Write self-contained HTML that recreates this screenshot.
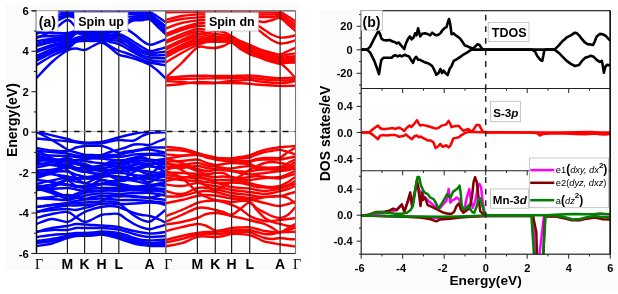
<!DOCTYPE html>
<html><head><meta charset="utf-8"><style>html,body{margin:0;padding:0;background:#fff;overflow:hidden}svg{display:block;will-change:transform}</style></head><body>
<svg width="618" height="294" viewBox="0 0 618 294">
<rect x="0" y="0" width="618" height="294" fill="#ffffff"/>
<rect x="5" y="4" width="295" height="266" fill="#fbfbfb"/>
<rect x="320" y="9.7" width="298" height="279.5" fill="#fbfbfb"/>
<rect x="36.5" y="10.8" width="259.0" height="242.7" fill="#fff"/>
<rect x="361.2" y="10.7" width="249.00000000000006" height="243.5" fill="#fff"/>
<line x1="31.5" y1="10.8" x2="295.5" y2="10.8" stroke="#555" stroke-width="1.3"/>
<defs><clipPath id="c1"><rect x="36.5" y="11.4" width="129.3" height="242.1"/></clipPath><clipPath id="c2"><rect x="165.8" y="11.4" width="129.7" height="242.1"/></clipPath></defs>
<g clip-path="url(#c1)" fill="none" stroke="#0000ff" stroke-width="2.4" stroke-linecap="round">
<path d="M36.5,22.2 C39.1,20.6 46.9,14.2 52.0,12.5 C57.1,10.8 63.3,12.1 67.3,12.0 C71.3,11.9 73.1,12.0 76.0,12.0 C78.9,12.0 81.7,12.0 84.5,12.0 C87.3,12.0 90.2,12.0 93.0,12.0 C95.8,12.0 98.6,12.0 101.4,12.0 C104.2,12.0 107.2,12.0 110.0,12.0 C112.8,12.0 115.8,12.0 118.5,12.0 C121.2,12.0 123.4,12.0 126.0,12.0 C128.6,12.0 131.3,12.0 134.0,12.0 C136.7,12.0 139.4,12.0 142.0,12.0 C144.6,12.0 147.0,11.2 149.7,12.0 C152.4,12.8 155.3,15.3 158.0,17.0 C160.7,18.7 164.5,21.3 165.8,22.2"/>
<path d="M36.5,26.8 C39.1,25.1 46.9,18.7 52.0,16.5 C57.1,14.3 63.3,13.9 67.3,13.5 C71.3,13.1 73.1,13.8 76.0,13.8 C78.9,13.9 81.7,13.8 84.5,13.8 C87.3,13.8 90.2,13.8 93.0,13.8 C95.8,13.8 98.6,13.8 101.4,13.8 C104.2,13.8 107.2,13.8 110.0,13.8 C112.8,13.8 115.8,13.8 118.5,13.8 C121.2,13.8 123.4,13.8 126.0,13.8 C128.6,13.8 131.3,14.0 134.0,14.0 C136.7,14.0 139.4,14.0 142.0,14.0 C144.6,14.0 147.0,12.9 149.7,14.0 C152.4,15.1 155.3,18.4 158.0,20.5 C160.7,22.6 164.5,25.8 165.8,26.8"/>
<path d="M36.5,30.4 C39.1,28.7 46.9,22.6 52.0,20.0 C57.1,17.4 63.3,15.7 67.3,15.0 C71.3,14.3 73.1,15.5 76.0,15.6 C78.9,15.7 81.7,15.6 84.5,15.6 C87.3,15.6 90.2,15.6 93.0,15.6 C95.8,15.6 98.6,15.6 101.4,15.6 C104.2,15.6 107.2,15.5 110.0,15.6 C112.8,15.7 115.8,15.8 118.5,16.0 C121.2,16.1 123.4,16.4 126.0,16.5 C128.6,16.6 131.3,16.6 134.0,16.5 C136.7,16.4 139.4,16.3 142.0,16.2 C144.6,16.1 147.0,14.8 149.7,16.0 C152.4,17.2 155.3,21.1 158.0,23.5 C160.7,25.9 164.5,29.2 165.8,30.4"/>
<path d="M36.5,34.0 C39.1,32.2 46.9,26.4 52.0,23.5 C57.1,20.6 63.3,17.4 67.3,16.5 C71.3,15.6 73.1,17.8 76.0,18.0 C78.9,18.2 81.7,18.0 84.5,18.0 C87.3,18.0 90.2,18.0 93.0,18.0 C95.8,18.0 98.6,18.0 101.4,18.0 C104.2,18.0 107.2,17.9 110.0,18.0 C112.8,18.1 115.8,18.2 118.5,18.5 C121.2,18.8 123.4,19.7 126.0,20.0 C128.6,20.3 131.3,20.2 134.0,20.2 C136.7,20.2 139.4,20.3 142.0,20.2 C144.6,20.1 147.0,18.4 149.7,19.5 C152.4,20.6 155.3,24.6 158.0,27.0 C160.7,29.4 164.5,32.8 165.8,34.0"/>
<path d="M36.5,38.0 C39.1,36.8 46.9,34.0 52.0,31.0 C57.1,28.0 63.3,20.6 67.3,20.0 C71.3,19.4 73.1,25.6 76.0,27.5 C78.9,29.4 81.7,30.8 84.5,31.5 C87.3,32.2 90.2,31.5 93.0,31.5 C95.8,31.5 98.6,31.6 101.4,31.5 C104.2,31.4 107.2,31.1 110.0,31.0 C112.8,30.9 115.8,32.2 118.5,31.0 C121.2,29.8 123.4,25.8 126.0,24.0 C128.6,22.2 131.3,20.8 134.0,20.0 C136.7,19.2 139.4,19.2 142.0,19.0 C144.6,18.8 147.0,17.2 149.7,18.5 C152.4,19.8 155.3,23.9 158.0,26.5 C160.7,29.1 164.5,32.8 165.8,34.0"/>
<path d="M36.5,78.0 C39.1,75.3 46.9,66.6 52.0,62.0 C57.1,57.4 63.3,52.8 67.3,50.5 C71.3,48.2 73.1,48.6 76.0,48.5 C78.9,48.4 81.7,50.4 84.5,50.0 C87.3,49.6 90.2,47.2 93.0,46.0 C95.8,44.8 98.6,42.2 101.4,42.5 C104.2,42.8 107.2,45.5 110.0,47.5 C112.8,49.5 115.8,53.0 118.5,54.5 C121.2,56.0 123.4,55.8 126.0,56.5 C128.6,57.2 131.3,57.7 134.0,58.5 C136.7,59.3 139.4,60.5 142.0,61.5 C144.6,62.5 147.0,63.1 149.7,64.7 C152.4,66.3 155.3,68.7 158.0,71.0 C160.7,73.3 164.5,77.2 165.8,78.5"/>
<path d="M36.5,65.0 C39.1,63.5 46.9,58.4 52.0,55.7 C57.1,53.0 63.3,51.3 67.3,49.0 C71.3,46.7 73.1,43.3 76.0,42.0 C78.9,40.7 81.7,41.2 84.5,41.0 C87.3,40.8 90.2,41.0 93.0,41.0 C95.8,41.0 98.6,40.2 101.4,41.0 C104.2,41.8 107.2,44.4 110.0,46.0 C112.8,47.6 115.8,49.3 118.5,50.5 C121.2,51.7 123.4,52.1 126.0,53.0 C128.6,53.9 131.3,54.9 134.0,56.0 C136.7,57.1 139.4,58.4 142.0,59.5 C144.6,60.6 147.0,61.8 149.7,62.5 C152.4,63.2 155.3,63.5 158.0,64.0 C160.7,64.5 164.5,65.0 165.8,65.2"/>
<path d="M36.5,60.7 C39.1,59.4 46.9,55.1 52.0,52.8 C57.1,50.5 63.3,49.0 67.3,47.0 C71.3,45.0 73.1,42.0 76.0,40.8 C78.9,39.6 81.7,40.0 84.5,39.8 C87.3,39.6 90.2,39.8 93.0,39.8 C95.8,39.8 98.6,39.6 101.4,40.0 C104.2,40.4 107.2,41.3 110.0,42.0 C112.8,42.7 115.8,43.0 118.5,44.0 C121.2,45.0 123.4,46.6 126.0,48.0 C128.6,49.4 131.3,51.0 134.0,52.5 C136.7,54.0 139.4,55.8 142.0,57.0 C144.6,58.2 147.0,59.2 149.7,60.0 C152.4,60.8 155.3,61.3 158.0,61.5 C160.7,61.7 164.5,61.4 165.8,61.4"/>
<path d="M36.5,58.2 C39.1,57.0 46.9,52.9 52.0,50.8 C57.1,48.7 63.3,47.3 67.3,45.5 C71.3,43.7 73.1,40.9 76.0,39.8 C78.9,38.7 81.7,39.0 84.5,38.8 C87.3,38.6 90.2,38.8 93.0,38.8 C95.8,38.8 98.6,38.8 101.4,39.0 C104.2,39.2 107.2,39.7 110.0,40.0 C112.8,40.3 115.8,40.2 118.5,41.0 C121.2,41.8 123.4,43.5 126.0,45.0 C128.6,46.5 131.3,48.3 134.0,50.0 C136.7,51.7 139.4,53.8 142.0,55.0 C144.6,56.2 147.0,57.0 149.7,57.5 C152.4,58.0 155.3,58.2 158.0,58.3 C160.7,58.4 164.5,58.2 165.8,58.2"/>
<path d="M36.5,56.0 C39.1,54.8 46.9,51.0 52.0,49.0 C57.1,47.0 63.3,45.7 67.3,44.0 C71.3,42.3 73.1,39.8 76.0,38.8 C78.9,37.8 81.7,38.0 84.5,37.8 C87.3,37.6 90.2,37.8 93.0,37.8 C95.8,37.8 98.6,37.8 101.4,37.8 C104.2,37.8 107.2,37.9 110.0,38.0 C112.8,38.1 115.8,37.8 118.5,38.5 C121.2,39.2 123.4,40.5 126.0,42.0 C128.6,43.5 131.3,45.8 134.0,47.5 C136.7,49.2 139.4,51.2 142.0,52.5 C144.6,53.8 147.0,54.5 149.7,55.0 C152.4,55.5 155.3,55.5 158.0,55.5 C160.7,55.5 164.5,55.0 165.8,54.9"/>
<path d="M36.5,52.0 C39.1,51.1 46.9,48.1 52.0,46.5 C57.1,44.9 63.3,44.0 67.3,42.5 C71.3,41.0 73.1,38.8 76.0,37.8 C78.9,36.8 81.7,36.7 84.5,36.5 C87.3,36.3 90.2,36.5 93.0,36.5 C95.8,36.5 98.6,36.5 101.4,36.5 C104.2,36.5 107.2,36.6 110.0,36.5 C112.8,36.4 115.8,35.5 118.5,36.0 C121.2,36.5 123.4,38.0 126.0,39.5 C128.6,41.0 131.3,43.2 134.0,45.0 C136.7,46.8 139.4,48.7 142.0,50.0 C144.6,51.3 147.0,52.6 149.7,53.0 C152.4,53.4 155.3,52.7 158.0,52.5 C160.7,52.3 164.5,51.8 165.8,51.6"/>
<path d="M36.5,50.2 C39.1,49.3 46.9,46.4 52.0,44.9 C57.1,43.4 63.3,42.9 67.3,41.0 C71.3,39.1 73.1,34.5 76.0,33.5 C78.9,32.5 81.7,34.8 84.5,35.0 C87.3,35.2 90.2,35.0 93.0,35.0 C95.8,35.0 98.6,35.0 101.4,35.0 C104.2,35.0 107.2,35.2 110.0,35.0 C112.8,34.8 115.8,33.7 118.5,34.0 C121.2,34.3 123.4,35.7 126.0,37.0 C128.6,38.3 131.3,40.3 134.0,42.0 C136.7,43.7 139.4,45.5 142.0,47.0 C144.6,48.5 147.0,50.6 149.7,51.0 C152.4,51.4 155.3,50.1 158.0,49.5 C160.7,48.9 164.5,47.6 165.8,47.2"/>
<path d="M36.5,46.0 C39.1,45.4 46.9,43.3 52.0,42.2 C57.1,41.1 63.3,41.1 67.3,39.5 C71.3,37.9 73.1,33.5 76.0,32.5 C78.9,31.5 81.7,33.3 84.5,33.5 C87.3,33.7 90.2,33.5 93.0,33.5 C95.8,33.5 98.6,33.7 101.4,33.5 C104.2,33.3 107.2,33.2 110.0,32.5 C112.8,31.8 115.8,29.6 118.5,29.0 C121.2,28.4 123.4,28.2 126.0,29.0 C128.6,29.8 131.3,32.1 134.0,34.0 C136.7,35.9 139.4,38.7 142.0,40.5 C144.6,42.3 147.0,44.4 149.7,44.7 C152.4,45.0 155.3,43.4 158.0,42.5 C160.7,41.6 164.5,39.7 165.8,39.1"/>
<path d="M36.5,43.8 C39.1,43.2 46.9,41.4 52.0,40.4 C57.1,39.4 63.3,39.4 67.3,38.0 C71.3,36.6 73.1,32.9 76.0,32.0 C78.9,31.1 81.7,32.4 84.5,32.5 C87.3,32.6 90.2,32.5 93.0,32.5 C95.8,32.5 98.6,32.6 101.4,32.5 C104.2,32.4 107.2,32.1 110.0,32.0 C112.8,31.9 115.8,33.2 118.5,32.0 C121.2,30.8 123.4,27.1 126.0,25.0 C128.6,22.9 131.3,20.6 134.0,19.5 C136.7,18.4 139.4,18.8 142.0,18.5 C144.6,18.2 147.0,16.7 149.7,18.0 C152.4,19.3 155.3,23.8 158.0,26.5 C160.7,29.2 164.5,32.8 165.8,34.0"/>
<path d="M36.5,41.2 C39.1,40.8 46.9,39.3 52.0,38.5 C57.1,37.7 63.3,37.6 67.3,36.5 C71.3,35.4 73.1,32.5 76.0,31.8 C78.9,31.1 81.7,32.0 84.5,32.0 C87.3,32.0 90.2,32.0 93.0,32.0 C95.8,32.0 98.6,32.1 101.4,32.0 C104.2,31.9 107.2,31.6 110.0,31.5 C112.8,31.4 115.8,32.8 118.5,31.5 C121.2,30.2 123.4,26.1 126.0,24.0 C128.6,21.9 131.3,20.1 134.0,19.0 C136.7,17.9 139.4,17.8 142.0,17.5 C144.6,17.2 147.0,15.8 149.7,17.0 C152.4,18.2 155.3,22.5 158.0,25.0 C160.7,27.5 164.5,30.8 165.8,32.0"/>
<path d="M36.5,37.0 C39.1,36.8 46.9,36.1 52.0,35.8 C57.1,35.5 63.3,35.7 67.3,35.0 C71.3,34.3 73.1,32.1 76.0,31.5 C78.9,30.9 81.7,31.5 84.5,31.5 C87.3,31.5 90.2,31.5 93.0,31.5 C95.8,31.5 98.6,31.5 101.4,31.5 C104.2,31.5 107.2,31.6 110.0,31.5 C112.8,31.4 115.8,32.4 118.5,31.0 C121.2,29.6 123.4,25.2 126.0,23.0 C128.6,20.8 131.3,19.0 134.0,18.0 C136.7,17.0 139.4,17.2 142.0,17.0 C144.6,16.8 147.0,15.4 149.7,16.5 C152.4,17.6 155.3,21.2 158.0,23.5 C160.7,25.8 164.5,29.2 165.8,30.4"/>
<path d="M36.5,32.5 C39.1,32.5 46.9,32.7 52.0,32.8 C57.1,32.9 63.3,33.3 67.3,33.0 C71.3,32.7 73.1,31.3 76.0,31.0 C78.9,30.7 81.7,31.0 84.5,31.0 C87.3,31.0 90.2,31.0 93.0,31.0 C95.8,31.0 98.6,31.0 101.4,31.0 C104.2,31.0 107.2,31.2 110.0,31.0 C112.8,30.8 115.8,31.5 118.5,30.0 C121.2,28.5 123.4,24.2 126.0,22.0 C128.6,19.8 131.3,18.1 134.0,17.0 C136.7,15.9 139.4,15.8 142.0,15.5 C144.6,15.2 147.0,14.2 149.7,15.0 C152.4,15.8 155.3,18.5 158.0,20.5 C160.7,22.5 164.5,25.8 165.8,26.8"/>
<path d="M36.5,131.6 C39.1,132.2 46.9,134.1 52.0,135.3 C57.1,136.5 63.3,138.0 67.3,139.0 C71.3,140.0 73.1,140.9 76.0,141.5 C78.9,142.1 81.7,142.3 84.5,142.5 C87.3,142.7 90.2,142.6 93.0,142.5 C95.8,142.4 98.6,142.4 101.4,142.0 C104.2,141.6 107.2,140.8 110.0,140.0 C112.8,139.2 115.8,138.2 118.5,137.5 C121.2,136.8 123.4,136.1 126.0,135.5 C128.6,134.9 131.3,134.3 134.0,133.8 C136.7,133.3 139.4,132.8 142.0,132.4 C144.6,132.0 147.0,131.8 149.7,131.6 C152.4,131.4 155.3,131.5 158.0,131.5 C160.7,131.5 164.5,131.5 165.8,131.5"/>
<path d="M36.5,132.0 C39.1,133.3 46.9,137.1 52.0,140.0 C57.1,142.9 63.3,147.4 67.3,149.5 C71.3,151.6 73.1,151.6 76.0,152.5 C78.9,153.4 81.7,154.3 84.5,154.7 C87.3,155.1 90.2,154.9 93.0,155.0 C95.8,155.1 98.6,155.5 101.4,155.0 C104.2,154.5 107.2,152.9 110.0,152.0 C112.8,151.1 115.8,150.3 118.5,149.6 C121.2,148.8 123.4,148.3 126.0,147.5 C128.6,146.7 131.3,145.0 134.0,144.5 C136.7,144.0 139.4,144.3 142.0,144.4 C144.6,144.5 147.0,145.4 149.7,144.9 C152.4,144.4 155.3,142.6 158.0,141.5 C160.7,140.4 164.5,139.0 165.8,138.5"/>
<path d="M36.5,138.5 C39.1,138.8 46.9,139.6 52.0,140.0 C57.1,140.4 63.3,140.8 67.3,141.2 C71.3,141.6 73.1,141.8 76.0,142.2 C78.9,142.6 81.7,143.3 84.5,143.5 C87.3,143.7 90.2,143.6 93.0,143.5 C95.8,143.4 98.6,143.5 101.4,143.2 C104.2,142.9 107.2,142.0 110.0,141.5 C112.8,141.0 115.8,140.3 118.5,140.1 C121.2,139.9 123.4,140.4 126.0,140.5 C128.6,140.6 131.3,141.2 134.0,140.5 C136.7,139.8 139.4,137.2 142.0,136.0 C144.6,134.8 147.0,133.6 149.7,133.0 C152.4,132.4 155.3,132.7 158.0,132.6 C160.7,132.5 164.5,132.4 165.8,132.4"/>
<path d="M36.5,148.0 C39.1,148.4 46.9,150.0 52.0,150.5 C57.1,151.0 63.3,151.5 67.3,151.0 C71.3,150.5 73.1,148.3 76.0,147.5 C78.9,146.7 81.7,146.3 84.5,146.0 C87.3,145.7 90.2,145.9 93.0,145.9 C95.8,145.9 98.6,145.5 101.4,145.9 C104.2,146.3 107.2,147.4 110.0,148.6 C112.8,149.8 115.8,152.3 118.5,152.8 C121.2,153.3 123.4,151.8 126.0,151.5 C128.6,151.2 131.3,151.1 134.0,150.7 C136.7,150.3 139.4,149.6 142.0,149.1 C144.6,148.6 147.0,147.8 149.7,147.5 C152.4,147.2 155.3,147.5 158.0,147.5 C160.7,147.5 164.5,147.5 165.8,147.5"/>
<path d="M36.5,150.7 C39.1,150.9 46.9,151.5 52.0,152.0 C57.1,152.5 63.3,152.9 67.3,153.5 C71.3,154.1 73.1,155.0 76.0,155.5 C78.9,156.0 81.7,156.3 84.5,156.5 C87.3,156.7 90.2,156.6 93.0,156.5 C95.8,156.4 98.6,156.2 101.4,156.0 C104.2,155.8 107.2,155.2 110.0,155.0 C112.8,154.8 115.8,155.3 118.5,155.0 C121.2,154.7 123.4,153.6 126.0,153.0 C128.6,152.4 131.3,152.0 134.0,151.5 C136.7,151.0 139.4,150.3 142.0,150.0 C144.6,149.7 147.0,149.3 149.7,149.5 C152.4,149.7 155.3,150.4 158.0,151.0 C160.7,151.6 164.5,152.5 165.8,152.8"/>
<path d="M36.5,154.0 C39.1,154.2 46.9,155.2 52.0,155.5 C57.1,155.8 63.3,155.8 67.3,156.0 C71.3,156.2 73.1,156.7 76.0,157.0 C78.9,157.3 81.7,157.8 84.5,158.0 C87.3,158.2 90.2,158.0 93.0,158.0 C95.8,158.0 98.6,158.2 101.4,158.0 C104.2,157.8 107.2,157.2 110.0,157.0 C112.8,156.8 115.8,157.2 118.5,157.0 C121.2,156.8 123.4,156.4 126.0,156.0 C128.6,155.6 131.3,154.8 134.0,154.5 C136.7,154.2 139.4,154.1 142.0,154.0 C144.6,153.9 147.0,153.9 149.7,153.8 C152.4,153.7 155.3,153.6 158.0,153.5 C160.7,153.4 164.5,153.1 165.8,153.0"/>
<path d="M36.5,156.0 C39.1,156.5 46.9,158.2 52.0,158.9 C57.1,159.6 63.3,160.1 67.3,160.3 C71.3,160.5 73.1,160.5 76.0,160.3 C78.9,160.1 81.7,159.5 84.5,159.2 C87.3,158.8 90.2,158.3 93.0,158.2 C95.8,158.1 98.6,158.4 101.4,158.6 C104.2,158.8 107.2,159.2 110.0,159.5 C112.8,159.8 115.8,160.4 118.5,160.4 C121.2,160.4 123.4,160.1 126.0,159.7 C128.6,159.2 131.3,158.4 134.0,157.7 C136.7,157.0 139.4,156.2 142.0,155.7 C144.6,155.2 147.0,154.8 149.7,154.7 C152.4,154.6 155.3,154.9 158.0,155.1 C160.7,155.3 164.5,155.8 165.8,156.0"/>
<path d="M36.5,158.5 C39.1,158.9 46.9,160.6 52.0,160.9 C57.1,161.2 63.3,160.5 67.3,160.4 C71.3,160.3 73.1,160.2 76.0,160.3 C78.9,160.4 81.7,160.7 84.5,161.0 C87.3,161.3 90.2,162.0 93.0,162.4 C95.8,162.8 98.6,163.1 101.4,163.3 C104.2,163.5 107.2,163.9 110.0,163.8 C112.8,163.7 115.8,163.5 118.5,162.9 C121.2,162.3 123.4,161.1 126.0,160.3 C128.6,159.5 131.3,158.7 134.0,158.3 C136.7,157.9 139.4,157.8 142.0,158.0 C144.6,158.2 147.0,159.0 149.7,159.4 C152.4,159.8 155.3,160.5 158.0,160.3 C160.7,160.2 164.5,158.8 165.8,158.5"/>
<path d="M36.5,161.0 C39.1,160.9 46.9,160.4 52.0,160.4 C57.1,160.4 63.3,160.4 67.3,160.9 C71.3,161.4 73.1,162.8 76.0,163.7 C78.9,164.6 81.7,165.7 84.5,166.2 C87.3,166.7 90.2,166.9 93.0,166.8 C95.8,166.7 98.6,166.1 101.4,165.6 C104.2,165.1 107.2,164.5 110.0,164.0 C112.8,163.5 115.8,163.1 118.5,162.8 C121.2,162.5 123.4,162.4 126.0,162.4 C128.6,162.4 131.3,162.6 134.0,162.7 C136.7,162.8 139.4,163.0 142.0,163.2 C144.6,163.4 147.0,163.9 149.7,163.8 C152.4,163.7 155.3,163.0 158.0,162.5 C160.7,162.0 164.5,161.2 165.8,161.0"/>
<path d="M36.5,167.5 C39.1,167.0 46.9,165.0 52.0,164.5 C57.1,164.0 63.3,163.9 67.3,164.5 C71.3,165.1 73.1,167.1 76.0,167.8 C78.9,168.5 81.7,168.8 84.5,168.7 C87.3,168.6 90.2,167.8 93.0,167.2 C95.8,166.6 98.6,165.7 101.4,165.4 C104.2,165.1 107.2,165.1 110.0,165.3 C112.8,165.5 115.8,166.0 118.5,166.5 C121.2,167.0 123.4,167.9 126.0,168.1 C128.6,168.3 131.3,168.1 134.0,167.8 C136.7,167.5 139.4,166.7 142.0,166.2 C144.6,165.7 147.0,165.2 149.7,164.7 C152.4,164.2 155.3,163.3 158.0,163.4 C160.7,163.5 164.5,164.7 165.8,165.0"/>
<path d="M36.5,170.5 C39.1,170.4 46.9,170.3 52.0,169.8 C57.1,169.3 63.3,167.6 67.3,167.3 C71.3,167.0 73.1,167.7 76.0,167.9 C78.9,168.1 81.7,168.4 84.5,168.5 C87.3,168.6 90.2,168.2 93.0,168.3 C95.8,168.4 98.6,168.6 101.4,168.9 C104.2,169.2 107.2,170.0 110.0,170.4 C112.8,170.8 115.8,171.2 118.5,171.3 C121.2,171.4 123.4,171.2 126.0,170.8 C128.6,170.4 131.3,169.5 134.0,168.8 C136.7,168.1 139.4,166.9 142.0,166.5 C144.6,166.1 147.0,166.2 149.7,166.3 C152.4,166.5 155.3,167.1 158.0,167.4 C160.7,167.7 164.5,167.9 165.8,168.0"/>
<path d="M36.5,174.0 C39.1,173.5 46.9,172.1 52.0,171.0 C57.1,169.9 63.3,167.9 67.3,167.6 C71.3,167.3 73.1,168.5 76.0,169.2 C78.9,169.9 81.7,171.0 84.5,171.7 C87.3,172.4 90.2,173.0 93.0,173.3 C95.8,173.6 98.6,173.7 101.4,173.7 C104.2,173.7 107.2,173.7 110.0,173.4 C112.8,173.1 115.8,172.5 118.5,172.0 C121.2,171.5 123.4,170.9 126.0,170.6 C128.6,170.3 131.3,170.2 134.0,170.2 C136.7,170.2 139.4,170.4 142.0,170.7 C144.6,171.0 147.0,171.5 149.7,171.8 C152.4,172.2 155.3,172.9 158.0,172.8 C160.7,172.7 164.5,171.3 165.8,171.0"/>
<path d="M36.5,176.0 C39.1,175.4 46.9,172.9 52.0,172.2 C57.1,171.4 63.3,171.1 67.3,171.5 C71.3,171.9 73.1,173.7 76.0,174.6 C78.9,175.5 81.7,176.4 84.5,176.7 C87.3,177.0 90.2,176.8 93.0,176.5 C95.8,176.2 98.6,175.2 101.4,174.7 C104.2,174.1 107.2,173.5 110.0,173.2 C112.8,172.9 115.8,172.6 118.5,172.7 C121.2,172.8 123.4,173.2 126.0,173.6 C128.6,174.0 131.3,174.8 134.0,175.1 C136.7,175.4 139.4,175.6 142.0,175.7 C144.6,175.8 147.0,175.8 149.7,175.5 C152.4,175.2 155.3,174.4 158.0,174.2 C160.7,173.9 164.5,174.0 165.8,174.0"/>
<path d="M36.5,184.0 C39.1,183.4 46.9,181.5 52.0,180.4 C57.1,179.3 63.3,177.9 67.3,177.6 C71.3,177.3 73.1,178.5 76.0,178.6 C78.9,178.7 81.7,178.3 84.5,177.9 C87.3,177.5 90.2,176.9 93.0,176.4 C95.8,175.9 98.6,175.3 101.4,175.2 C104.2,175.1 107.2,175.5 110.0,175.9 C112.8,176.3 115.8,177.0 118.5,177.4 C121.2,177.8 123.4,178.4 126.0,178.6 C128.6,178.8 131.3,178.8 134.0,178.6 C136.7,178.4 139.4,177.8 142.0,177.3 C144.6,176.8 147.0,176.2 149.7,175.8 C152.4,175.5 155.3,175.0 158.0,175.2 C160.7,175.4 164.5,176.7 165.8,177.0"/>
<path d="M36.5,186.5 C39.1,186.2 46.9,185.9 52.0,184.7 C57.1,183.5 63.3,180.4 67.3,179.5 C71.3,178.6 73.1,179.2 76.0,179.0 C78.9,178.8 81.7,178.2 84.5,178.2 C87.3,178.2 90.2,178.5 93.0,178.8 C95.8,179.1 98.6,179.4 101.4,179.8 C104.2,180.2 107.2,180.9 110.0,181.1 C112.8,181.3 115.8,181.4 118.5,181.2 C121.2,181.0 123.4,180.4 126.0,180.0 C128.6,179.6 131.3,178.8 134.0,178.5 C136.7,178.2 139.4,178.1 142.0,178.2 C144.6,178.2 147.0,178.5 149.7,178.8 C152.4,179.2 155.3,180.1 158.0,180.3 C160.7,180.5 164.5,180.1 165.8,180.0"/>
<path d="M36.5,186.5 C39.1,186.6 46.9,188.2 52.0,187.1 C57.1,186.0 63.3,181.1 67.3,180.2 C71.3,179.3 73.1,181.1 76.0,181.6 C78.9,182.1 81.7,182.6 84.5,183.1 C87.3,183.6 90.2,184.4 93.0,184.5 C95.8,184.6 98.6,184.0 101.4,183.7 C104.2,183.4 107.2,183.1 110.0,182.7 C112.8,182.3 115.8,181.5 118.5,181.1 C121.2,180.7 123.4,180.3 126.0,180.2 C128.6,180.1 131.3,180.3 134.0,180.7 C136.7,181.1 139.4,182.0 142.0,182.6 C144.6,183.2 147.0,184.2 149.7,184.5 C152.4,184.8 155.3,184.9 158.0,184.7 C160.7,184.4 164.5,183.3 165.8,183.0"/>
<path d="M36.5,188.5 C39.1,187.8 46.9,185.1 52.0,184.5 C57.1,183.9 63.3,184.5 67.3,184.9 C71.3,185.3 73.1,186.5 76.0,186.9 C78.9,187.3 81.7,187.4 84.5,187.3 C87.3,187.2 90.2,186.8 93.0,186.3 C95.8,185.8 98.6,184.8 101.4,184.3 C104.2,183.8 107.2,183.4 110.0,183.3 C112.8,183.2 115.8,183.3 118.5,183.6 C121.2,183.9 123.4,184.4 126.0,184.9 C128.6,185.4 131.3,186.0 134.0,186.4 C136.7,186.8 139.4,187.2 142.0,187.3 C144.6,187.4 147.0,187.1 149.7,186.8 C152.4,186.5 155.3,185.4 158.0,185.3 C160.7,185.2 164.5,185.9 165.8,186.0"/>
<path d="M36.5,163.0 C39.1,163.3 46.9,164.3 52.0,165.0 C57.1,165.7 63.3,166.4 67.3,167.0 C71.3,167.6 73.1,168.2 76.0,168.5 C78.9,168.8 81.7,168.8 84.5,169.0 C87.3,169.2 90.2,169.7 93.0,170.0 C95.8,170.3 98.6,171.0 101.4,171.0 C104.2,171.0 107.2,170.5 110.0,170.0 C112.8,169.5 115.8,168.6 118.5,168.0 C121.2,167.4 123.4,167.0 126.0,166.5 C128.6,166.0 131.3,165.4 134.0,165.0 C136.7,164.6 139.4,164.2 142.0,164.0 C144.6,163.8 147.0,164.1 149.7,164.0 C152.4,163.9 155.3,163.7 158.0,163.5 C160.7,163.3 164.5,163.1 165.8,163.0"/>
<path d="M36.5,172.0 C39.1,172.3 46.9,173.2 52.0,174.0 C57.1,174.8 63.3,175.8 67.3,176.5 C71.3,177.2 73.1,177.7 76.0,178.0 C78.9,178.3 81.7,178.5 84.5,178.5 C87.3,178.5 90.2,178.2 93.0,178.0 C95.8,177.8 98.6,177.3 101.4,177.0 C104.2,176.7 107.2,176.1 110.0,176.0 C112.8,175.9 115.8,176.2 118.5,176.5 C121.2,176.8 123.4,177.2 126.0,177.5 C128.6,177.8 131.3,178.3 134.0,178.5 C136.7,178.7 139.4,178.6 142.0,178.5 C144.6,178.4 147.0,178.4 149.7,178.0 C152.4,177.6 155.3,176.5 158.0,176.0 C160.7,175.5 164.5,175.2 165.8,175.0"/>
<path d="M36.5,180.0 C39.1,180.3 46.9,181.2 52.0,182.0 C57.1,182.8 63.3,183.8 67.3,184.5 C71.3,185.2 73.1,185.8 76.0,186.0 C78.9,186.2 81.7,186.2 84.5,186.0 C87.3,185.8 90.2,185.3 93.0,185.0 C95.8,184.7 98.6,184.1 101.4,184.0 C104.2,183.9 107.2,184.2 110.0,184.5 C112.8,184.8 115.8,185.2 118.5,185.5 C121.2,185.8 123.4,186.2 126.0,186.5 C128.6,186.8 131.3,187.1 134.0,187.0 C136.7,186.9 139.4,186.2 142.0,186.0 C144.6,185.8 147.0,185.8 149.7,185.5 C152.4,185.2 155.3,184.4 158.0,184.0 C160.7,183.6 164.5,183.2 165.8,183.0"/>
<path d="M36.5,190.0 C39.1,189.8 46.9,189.3 52.0,189.0 C57.1,188.7 63.3,187.9 67.3,188.0 C71.3,188.1 73.1,189.0 76.0,189.5 C78.9,190.0 81.7,190.7 84.5,191.0 C87.3,191.3 90.2,191.5 93.0,191.5 C95.8,191.5 98.6,191.2 101.4,191.0 C104.2,190.8 107.2,190.2 110.0,190.0 C112.8,189.8 115.8,189.6 118.5,189.5 C121.2,189.4 123.4,189.4 126.0,189.5 C128.6,189.6 131.3,189.8 134.0,190.0 C136.7,190.2 139.4,190.3 142.0,190.5 C144.6,190.7 147.0,191.1 149.7,191.0 C152.4,190.9 155.3,190.3 158.0,190.0 C160.7,189.7 164.5,189.2 165.8,189.0"/>
<path d="M36.5,158.0 C39.1,158.2 46.9,158.8 52.0,159.5 C57.1,160.2 63.3,161.2 67.3,162.0 C71.3,162.8 73.1,163.3 76.0,164.0 C78.9,164.7 81.7,165.4 84.5,166.0 C87.3,166.6 90.2,167.2 93.0,167.5 C95.8,167.8 98.6,168.1 101.4,168.0 C104.2,167.9 107.2,167.5 110.0,167.0 C112.8,166.5 115.8,165.8 118.5,165.0 C121.2,164.2 123.4,163.2 126.0,162.5 C128.6,161.8 131.3,161.3 134.0,161.0 C136.7,160.7 139.4,160.5 142.0,160.5 C144.6,160.5 147.0,161.1 149.7,161.0 C152.4,160.9 155.3,160.3 158.0,160.0 C160.7,159.7 164.5,159.2 165.8,159.0"/>
<path d="M36.5,150.7 C39.1,151.9 46.9,155.4 52.0,158.0 C57.1,160.6 63.3,164.0 67.3,166.0 C71.3,168.0 73.1,169.0 76.0,170.0 C78.9,171.0 81.7,172.0 84.5,172.0 C87.3,172.0 90.2,171.0 93.0,170.0 C95.8,169.0 98.6,167.3 101.4,166.0 C104.2,164.7 107.2,163.0 110.0,162.0 C112.8,161.0 115.8,159.8 118.5,160.0 C121.2,160.2 123.4,161.7 126.0,163.0 C128.6,164.3 131.3,166.5 134.0,168.0 C136.7,169.5 139.4,171.0 142.0,172.0 C144.6,173.0 147.0,174.7 149.7,174.0 C152.4,173.3 155.3,170.0 158.0,168.0 C160.7,166.0 164.5,163.0 165.8,162.0"/>
<path d="M36.5,165.0 C39.1,164.5 46.9,163.2 52.0,162.0 C57.1,160.8 63.3,158.0 67.3,158.0 C71.3,158.0 73.1,160.3 76.0,162.0 C78.9,163.7 81.7,166.2 84.5,168.0 C87.3,169.8 90.2,171.7 93.0,173.0 C95.8,174.3 98.6,176.0 101.4,176.0 C104.2,176.0 107.2,174.3 110.0,173.0 C112.8,171.7 115.8,169.5 118.5,168.0 C121.2,166.5 123.4,165.3 126.0,164.0 C128.6,162.7 131.3,161.0 134.0,160.0 C136.7,159.0 139.4,158.0 142.0,158.0 C144.6,158.0 147.0,158.8 149.7,160.0 C152.4,161.2 155.3,163.7 158.0,165.0 C160.7,166.3 164.5,167.5 165.8,168.0"/>
<path d="M36.5,176.0 C39.1,175.2 46.9,172.8 52.0,171.0 C57.1,169.2 63.3,166.3 67.3,165.0 C71.3,163.7 73.1,163.2 76.0,163.0 C78.9,162.8 81.7,163.3 84.5,164.0 C87.3,164.7 90.2,165.8 93.0,167.0 C95.8,168.2 98.6,169.5 101.4,171.0 C104.2,172.5 107.2,174.5 110.0,176.0 C112.8,177.5 115.8,179.8 118.5,180.0 C121.2,180.2 123.4,178.3 126.0,177.0 C128.6,175.7 131.3,173.5 134.0,172.0 C136.7,170.5 139.4,169.0 142.0,168.0 C144.6,167.0 147.0,166.0 149.7,166.0 C152.4,166.0 155.3,167.0 158.0,168.0 C160.7,169.0 164.5,171.3 165.8,172.0"/>
<path d="M36.5,156.0 C39.1,156.7 46.9,157.7 52.0,160.0 C57.1,162.3 63.3,167.0 67.3,170.0 C71.3,173.0 73.1,175.8 76.0,178.0 C78.9,180.2 81.7,182.7 84.5,183.0 C87.3,183.3 90.2,181.3 93.0,180.0 C95.8,178.7 98.6,176.7 101.4,175.0 C104.2,173.3 107.2,171.2 110.0,170.0 C112.8,168.8 115.8,167.8 118.5,168.0 C121.2,168.2 123.4,169.7 126.0,171.0 C128.6,172.3 131.3,174.5 134.0,176.0 C136.7,177.5 139.4,179.0 142.0,180.0 C144.6,181.0 147.0,182.3 149.7,182.0 C152.4,181.7 155.3,179.0 158.0,178.0 C160.7,177.0 164.5,176.3 165.8,176.0"/>
<path d="M36.5,178.0 C39.1,177.3 46.9,173.7 52.0,174.0 C57.1,174.3 63.3,178.0 67.3,180.0 C71.3,182.0 73.1,184.7 76.0,186.0 C78.9,187.3 81.7,188.3 84.5,188.0 C87.3,187.7 90.2,185.3 93.0,184.0 C95.8,182.7 98.6,180.3 101.4,180.0 C104.2,179.7 107.2,181.0 110.0,182.0 C112.8,183.0 115.8,184.8 118.5,186.0 C121.2,187.2 123.4,188.3 126.0,189.0 C128.6,189.7 131.3,190.2 134.0,190.0 C136.7,189.8 139.4,188.5 142.0,188.0 C144.6,187.5 147.0,187.7 149.7,187.0 C152.4,186.3 155.3,184.8 158.0,184.0 C160.7,183.2 164.5,182.3 165.8,182.0"/>
<path d="M36.5,186.5 C39.1,187.2 46.9,189.4 52.0,191.0 C57.1,192.6 63.3,195.5 67.3,196.0 C71.3,196.5 73.1,195.0 76.0,194.0 C78.9,193.0 81.7,190.9 84.5,190.0 C87.3,189.1 90.2,188.8 93.0,188.5 C95.8,188.2 98.6,188.1 101.4,188.0 C104.2,187.9 107.2,188.0 110.0,188.0 C112.8,188.0 115.8,188.0 118.5,188.0 C121.2,188.0 123.4,188.0 126.0,188.0 C128.6,188.0 131.3,188.0 134.0,188.0 C136.7,188.0 139.4,188.0 142.0,188.0 C144.6,188.0 147.0,187.9 149.7,188.0 C152.4,188.1 155.3,188.3 158.0,188.5 C160.7,188.7 164.5,188.9 165.8,189.0"/>
<path d="M36.5,188.5 C39.1,189.2 46.9,191.3 52.0,193.0 C57.1,194.7 63.3,198.0 67.3,198.5 C71.3,199.0 73.1,196.9 76.0,196.0 C78.9,195.1 81.7,193.8 84.5,193.0 C87.3,192.2 90.2,191.4 93.0,191.0 C95.8,190.6 98.6,190.6 101.4,190.5 C104.2,190.4 107.2,190.4 110.0,190.5 C112.8,190.6 115.8,191.0 118.5,191.0 C121.2,191.0 123.4,190.7 126.0,190.5 C128.6,190.3 131.3,190.1 134.0,190.0 C136.7,189.9 139.4,190.0 142.0,190.0 C144.6,190.0 147.0,189.8 149.7,190.0 C152.4,190.2 155.3,190.7 158.0,191.0 C160.7,191.3 164.5,191.8 165.8,192.0"/>
<path d="M36.5,198.3 C39.1,198.4 46.9,198.7 52.0,199.0 C57.1,199.3 63.3,200.2 67.3,200.0 C71.3,199.8 73.1,198.7 76.0,198.0 C78.9,197.3 81.7,196.7 84.5,196.0 C87.3,195.3 90.2,194.4 93.0,194.0 C95.8,193.6 98.6,193.6 101.4,193.5 C104.2,193.4 107.2,193.4 110.0,193.5 C112.8,193.6 115.8,194.0 118.5,194.0 C121.2,194.0 123.4,193.7 126.0,193.5 C128.6,193.3 131.3,193.1 134.0,193.0 C136.7,192.9 139.4,193.0 142.0,193.0 C144.6,193.0 147.0,192.8 149.7,193.0 C152.4,193.2 155.3,193.5 158.0,194.0 C160.7,194.5 164.5,195.7 165.8,196.0"/>
<path d="M36.5,198.3 C39.1,198.1 46.9,197.6 52.0,197.0 C57.1,196.4 63.3,195.0 67.3,195.0 C71.3,195.0 73.1,196.3 76.0,197.0 C78.9,197.7 81.7,199.0 84.5,199.0 C87.3,199.0 90.2,197.5 93.0,197.0 C95.8,196.5 98.6,196.2 101.4,196.0 C104.2,195.8 107.2,195.9 110.0,196.0 C112.8,196.1 115.8,196.5 118.5,196.5 C121.2,196.5 123.4,196.1 126.0,196.0 C128.6,195.9 131.3,195.8 134.0,196.0 C136.7,196.2 139.4,196.7 142.0,197.0 C144.6,197.3 147.0,197.7 149.7,198.0 C152.4,198.3 155.3,198.7 158.0,199.0 C160.7,199.3 164.5,199.8 165.8,200.0"/>
<path d="M36.5,207.0 C39.1,206.7 46.9,205.7 52.0,205.0 C57.1,204.3 63.3,203.7 67.3,203.0 C71.3,202.3 73.1,201.6 76.0,201.0 C78.9,200.4 81.7,199.8 84.5,199.5 C87.3,199.2 90.2,199.2 93.0,199.0 C95.8,198.8 98.6,198.5 101.4,198.5 C104.2,198.5 107.2,198.8 110.0,199.0 C112.8,199.2 115.8,199.8 118.5,200.0 C121.2,200.2 123.4,200.0 126.0,200.0 C128.6,200.0 131.3,199.9 134.0,200.0 C136.7,200.1 139.4,200.3 142.0,200.5 C144.6,200.7 147.0,200.8 149.7,201.0 C152.4,201.2 155.3,201.7 158.0,202.0 C160.7,202.3 164.5,202.8 165.8,203.0"/>
<path d="M36.5,207.0 C39.1,206.7 46.9,205.5 52.0,205.0 C57.1,204.5 63.3,204.3 67.3,204.0 C71.3,203.7 73.1,203.2 76.0,203.0 C78.9,202.8 81.7,202.7 84.5,202.5 C87.3,202.3 90.2,202.2 93.0,202.0 C95.8,201.8 98.6,201.6 101.4,201.5 C104.2,201.4 107.2,201.2 110.0,201.5 C112.8,201.8 115.8,201.8 118.5,203.0 C121.2,204.2 123.4,206.9 126.0,209.0 C128.6,211.1 131.3,213.7 134.0,215.5 C136.7,217.3 139.4,219.0 142.0,220.0 C144.6,221.0 147.0,222.3 149.7,221.6 C152.4,220.9 155.3,218.0 158.0,216.0 C160.7,214.0 164.5,210.7 165.8,209.6"/>
<path d="M36.5,212.0 C39.1,211.3 46.9,209.1 52.0,208.0 C57.1,206.9 63.3,205.9 67.3,205.5 C71.3,205.1 73.1,205.6 76.0,205.5 C78.9,205.4 81.7,205.2 84.5,205.0 C87.3,204.8 90.2,204.7 93.0,204.5 C95.8,204.3 98.6,204.2 101.4,204.0 C104.2,203.8 107.2,203.5 110.0,203.5 C112.8,203.5 115.8,203.9 118.5,204.0 C121.2,204.1 123.4,204.1 126.0,204.0 C128.6,203.9 131.3,203.7 134.0,203.5 C136.7,203.3 139.4,203.2 142.0,203.0 C144.6,202.8 147.0,202.5 149.7,202.5 C152.4,202.5 155.3,202.6 158.0,203.0 C160.7,203.4 164.5,204.7 165.8,205.0"/>
<path d="M36.5,217.8 C39.1,217.2 46.9,215.0 52.0,214.0 C57.1,213.0 63.3,211.5 67.3,212.0 C71.3,212.5 73.1,215.5 76.0,217.2 C78.9,218.9 81.7,221.7 84.5,222.0 C87.3,222.3 90.2,220.2 93.0,219.0 C95.8,217.8 98.6,215.8 101.4,215.0 C104.2,214.2 107.2,214.2 110.0,214.0 C112.8,213.8 115.8,213.2 118.5,214.0 C121.2,214.8 123.4,217.3 126.0,219.0 C128.6,220.7 131.3,222.6 134.0,224.0 C136.7,225.4 139.4,226.6 142.0,227.5 C144.6,228.4 147.0,229.3 149.7,229.2 C152.4,229.1 155.3,227.7 158.0,227.0 C160.7,226.3 164.5,225.2 165.8,224.9"/>
<path d="M36.5,224.0 C39.1,223.2 46.9,219.3 52.0,219.0 C57.1,218.7 63.3,222.3 67.3,222.0 C71.3,221.7 73.1,218.9 76.0,217.2 C78.9,215.5 81.7,213.4 84.5,212.0 C87.3,210.6 90.2,209.8 93.0,209.0 C95.8,208.2 98.6,207.5 101.4,207.0 C104.2,206.5 107.2,206.0 110.0,206.0 C112.8,206.0 115.8,206.3 118.5,207.0 C121.2,207.7 123.4,209.0 126.0,210.0 C128.6,211.0 131.3,212.2 134.0,213.0 C136.7,213.8 139.4,214.5 142.0,215.0 C144.6,215.5 147.0,215.3 149.7,216.0 C152.4,216.7 155.3,217.9 158.0,219.0 C160.7,220.1 164.5,222.1 165.8,222.7"/>
<path d="M36.5,212.0 C39.1,211.7 46.9,210.5 52.0,210.0 C57.1,209.5 63.3,209.0 67.3,209.0 C71.3,209.0 73.1,210.2 76.0,210.0 C78.9,209.8 81.7,208.7 84.5,208.0 C87.3,207.3 90.2,207.2 93.0,206.0 C95.8,204.8 98.6,202.5 101.4,201.0 C104.2,199.5 107.2,198.0 110.0,197.0 C112.8,196.0 115.8,195.2 118.5,195.0 C121.2,194.8 123.4,195.7 126.0,196.0 C128.6,196.3 131.3,196.8 134.0,197.0 C136.7,197.2 139.4,197.4 142.0,197.5 C144.6,197.6 147.0,197.8 149.7,197.5 C152.4,197.2 155.3,196.6 158.0,196.0 C160.7,195.4 164.5,194.3 165.8,194.0"/>
<path d="M36.5,231.8 C39.1,231.2 46.9,229.0 52.0,228.0 C57.1,227.0 63.3,226.7 67.3,226.0 C71.3,225.3 73.1,224.2 76.0,224.0 C78.9,223.8 81.7,224.3 84.5,224.5 C87.3,224.7 90.2,224.8 93.0,225.0 C95.8,225.2 98.6,225.3 101.4,225.5 C104.2,225.7 107.2,225.8 110.0,226.0 C112.8,226.2 115.8,226.5 118.5,227.0 C121.2,227.5 123.4,228.3 126.0,229.0 C128.6,229.7 131.3,230.4 134.0,231.0 C136.7,231.6 139.4,232.1 142.0,232.5 C144.6,232.9 147.0,233.4 149.7,233.5 C152.4,233.6 155.3,233.2 158.0,233.0 C160.7,232.8 164.5,232.2 165.8,232.0"/>
<path d="M36.5,231.8 C39.1,231.5 46.9,230.3 52.0,230.0 C57.1,229.7 63.3,230.3 67.3,230.0 C71.3,229.7 73.1,228.3 76.0,228.0 C78.9,227.7 81.7,228.0 84.5,228.0 C87.3,228.0 90.2,228.0 93.0,228.0 C95.8,228.0 98.6,227.9 101.4,228.0 C104.2,228.1 107.2,228.2 110.0,228.5 C112.8,228.8 115.8,229.0 118.5,229.5 C121.2,230.0 123.4,230.8 126.0,231.5 C128.6,232.2 131.3,233.2 134.0,234.0 C136.7,234.8 139.4,235.5 142.0,236.0 C144.6,236.5 147.0,236.9 149.7,237.0 C152.4,237.1 155.3,236.7 158.0,236.5 C160.7,236.3 164.5,236.1 165.8,236.0"/>
<path d="M36.5,237.0 C39.1,236.7 46.9,235.5 52.0,235.0 C57.1,234.5 63.3,234.3 67.3,234.0 C71.3,233.7 73.1,233.2 76.0,233.0 C78.9,232.8 81.7,233.1 84.5,233.0 C87.3,232.9 90.2,232.8 93.0,232.5 C95.8,232.2 98.6,231.6 101.4,231.5 C104.2,231.4 107.2,231.8 110.0,232.0 C112.8,232.2 115.8,232.5 118.5,233.0 C121.2,233.5 123.4,234.2 126.0,235.0 C128.6,235.8 131.3,237.2 134.0,238.0 C136.7,238.8 139.4,239.6 142.0,240.0 C144.6,240.4 147.0,240.5 149.7,240.5 C152.4,240.5 155.3,240.2 158.0,240.0 C160.7,239.8 164.5,239.6 165.8,239.5"/>
<path d="M36.5,241.0 C39.1,240.7 46.9,239.8 52.0,239.0 C57.1,238.2 63.3,236.8 67.3,236.0 C71.3,235.2 73.1,234.8 76.0,234.5 C78.9,234.2 81.7,234.2 84.5,234.0 C87.3,233.8 90.2,233.8 93.0,233.5 C95.8,233.2 98.6,232.5 101.4,232.5 C104.2,232.5 107.2,233.1 110.0,233.5 C112.8,233.9 115.8,234.3 118.5,235.0 C121.2,235.7 123.4,236.7 126.0,237.5 C128.6,238.3 131.3,239.2 134.0,240.0 C136.7,240.8 139.4,241.5 142.0,242.0 C144.6,242.5 147.0,242.9 149.7,243.0 C152.4,243.1 155.3,242.7 158.0,242.5 C160.7,242.3 164.5,242.1 165.8,242.0"/>
<path d="M36.5,243.0 C39.1,242.7 46.9,242.0 52.0,241.0 C57.1,240.0 63.3,237.9 67.3,237.0 C71.3,236.1 73.1,235.8 76.0,235.5 C78.9,235.2 81.7,235.2 84.5,235.0 C87.3,234.8 90.2,234.8 93.0,234.5 C95.8,234.2 98.6,233.4 101.4,233.5 C104.2,233.6 107.2,234.4 110.0,235.0 C112.8,235.6 115.8,236.2 118.5,237.0 C121.2,237.8 123.4,238.7 126.0,239.5 C128.6,240.3 131.3,241.2 134.0,242.0 C136.7,242.8 139.4,243.5 142.0,244.0 C144.6,244.5 147.0,244.9 149.7,245.0 C152.4,245.1 155.3,244.7 158.0,244.5 C160.7,244.3 164.5,244.1 165.8,244.0"/>
<path d="M36.5,246.0 C39.1,245.6 46.9,244.8 52.0,243.5 C57.1,242.2 63.3,239.2 67.3,238.0 C71.3,236.8 73.1,236.4 76.0,236.0 C78.9,235.6 81.7,235.9 84.5,235.8 C87.3,235.7 90.2,235.7 93.0,235.5 C95.8,235.3 98.6,234.4 101.4,234.5 C104.2,234.6 107.2,235.3 110.0,236.0 C112.8,236.7 115.8,237.7 118.5,238.5 C121.2,239.3 123.4,240.2 126.0,241.0 C128.6,241.8 131.3,242.8 134.0,243.5 C136.7,244.2 139.4,244.6 142.0,245.0 C144.6,245.4 147.0,245.8 149.7,246.0 C152.4,246.2 155.3,246.0 158.0,246.0 C160.7,246.0 164.5,246.0 165.8,246.0"/>
</g>
<g clip-path="url(#c2)" fill="none" stroke="#ff0000" stroke-width="2.4" stroke-linecap="round">
<path d="M165.8,12.3 C168.4,12.2 176.4,12.1 181.7,12.0 C186.9,11.9 193.2,11.8 197.3,11.8 C201.4,11.8 203.4,12.0 206.4,12.0 C209.3,12.0 212.4,12.0 215.2,12.0 C218.0,12.0 220.7,12.0 223.4,12.0 C226.1,12.0 228.6,12.0 231.4,12.0 C234.3,12.0 237.4,12.0 240.4,12.0 C243.4,12.0 246.7,12.0 249.4,12.0 C252.1,12.0 254.3,12.0 256.8,12.0 C259.4,12.0 262.1,12.0 264.7,12.0 C267.3,12.0 270.0,12.0 272.6,12.0 C275.2,12.0 277.6,11.2 280.2,12.0 C282.8,12.8 285.5,14.9 288.1,16.5 C290.6,18.1 294.3,20.7 295.5,21.5"/>
<path d="M165.8,20.0 C168.4,19.3 176.4,16.9 181.7,16.0 C186.9,15.1 193.2,14.8 197.3,14.5 C201.4,14.2 203.4,14.5 206.4,14.5 C209.3,14.5 212.4,14.5 215.2,14.5 C218.0,14.5 220.7,14.5 223.4,14.5 C226.1,14.5 228.6,14.5 231.4,14.5 C234.3,14.5 237.4,14.5 240.4,14.5 C243.4,14.5 246.7,14.5 249.4,14.5 C252.1,14.5 254.3,14.5 256.8,14.5 C259.4,14.5 262.1,14.5 264.7,14.5 C267.3,14.5 270.0,14.6 272.6,14.5 C275.2,14.4 277.6,13.2 280.2,14.0 C282.8,14.8 285.5,17.8 288.1,19.5 C290.6,21.2 294.3,23.7 295.5,24.5"/>
<path d="M165.8,22.5 C168.4,21.9 176.4,19.8 181.7,19.0 C186.9,18.2 193.2,17.8 197.3,17.5 C201.4,17.2 203.4,17.1 206.4,17.0 C209.3,16.9 212.4,17.0 215.2,17.0 C218.0,17.0 220.7,17.0 223.4,17.0 C226.1,17.0 228.6,17.0 231.4,17.0 C234.3,17.0 237.4,17.0 240.4,17.0 C243.4,17.0 246.7,17.0 249.4,17.0 C252.1,17.0 254.3,17.0 256.8,17.0 C259.4,17.0 262.1,17.0 264.7,17.0 C267.3,17.0 270.0,17.2 272.6,17.0 C275.2,16.8 277.6,15.2 280.2,16.0 C282.8,16.8 285.5,20.1 288.1,22.0 C290.6,23.9 294.3,26.6 295.5,27.5"/>
<path d="M165.8,28.5 C168.4,27.6 176.4,24.3 181.7,23.0 C186.9,21.7 193.2,21.0 197.3,20.5 C201.4,20.0 203.4,20.1 206.4,20.0 C209.3,19.9 212.4,20.0 215.2,20.0 C218.0,20.0 220.7,20.0 223.4,20.0 C226.1,20.0 228.6,20.0 231.4,20.0 C234.3,20.0 237.4,19.9 240.4,20.0 C243.4,20.1 246.7,20.3 249.4,20.5 C252.1,20.7 254.3,20.8 256.8,21.0 C259.4,21.2 262.1,22.2 264.7,22.0 C267.3,21.8 270.0,20.7 272.6,20.0 C275.2,19.3 277.6,17.2 280.2,18.0 C282.8,18.8 285.5,22.3 288.1,24.5 C290.6,26.7 294.3,29.9 295.5,31.0"/>
<path d="M165.8,34.0 C168.4,33.0 176.4,29.8 181.7,28.0 C186.9,26.2 193.2,24.3 197.3,23.5 C201.4,22.7 203.4,23.1 206.4,23.0 C209.3,22.9 212.4,23.0 215.2,23.0 C218.0,23.0 220.7,23.0 223.4,23.0 C226.1,23.0 228.6,23.0 231.4,23.0 C234.3,23.0 237.4,22.9 240.4,23.0 C243.4,23.1 246.7,23.2 249.4,23.5 C252.1,23.8 254.3,23.9 256.8,25.0 C259.4,26.1 262.1,28.3 264.7,30.0 C267.3,31.7 270.0,33.8 272.6,35.0 C275.2,36.2 277.6,37.2 280.2,37.5 C282.8,37.8 285.5,37.4 288.1,37.0 C290.6,36.6 294.3,35.6 295.5,35.3"/>
<path d="M165.8,36.0 C168.4,35.0 176.4,31.7 181.7,30.0 C186.9,28.3 193.2,26.7 197.3,26.0 C201.4,25.3 203.4,25.9 206.4,26.0 C209.3,26.1 212.4,26.3 215.2,26.5 C218.0,26.7 220.7,26.9 223.4,27.0 C226.1,27.1 228.6,27.0 231.4,27.0 C234.3,27.0 237.4,27.0 240.4,27.0 C243.4,27.0 246.7,26.7 249.4,27.0 C252.1,27.3 254.3,27.7 256.8,29.0 C259.4,30.3 262.1,33.1 264.7,35.0 C267.3,36.9 270.0,39.1 272.6,40.5 C275.2,41.9 277.6,43.2 280.2,43.5 C282.8,43.8 285.5,43.0 288.1,42.5 C290.6,42.0 294.3,40.6 295.5,40.2"/>
<path d="M165.8,41.0 C168.4,39.8 176.4,36.0 181.7,34.0 C186.9,32.0 193.2,29.7 197.3,29.0 C201.4,28.3 203.4,29.7 206.4,30.0 C209.3,30.3 212.4,30.7 215.2,31.0 C218.0,31.3 220.7,31.2 223.4,32.0 C226.1,32.8 228.6,34.5 231.4,36.0 C234.3,37.5 237.4,39.6 240.4,41.0 C243.4,42.4 246.7,43.4 249.4,44.6 C252.1,45.8 254.3,46.9 256.8,48.0 C259.4,49.1 262.1,50.2 264.7,51.0 C267.3,51.8 270.0,52.4 272.6,53.0 C275.2,53.6 277.6,54.8 280.2,54.5 C282.8,54.2 285.5,52.1 288.1,51.0 C290.6,49.9 294.3,48.4 295.5,47.9"/>
<path d="M165.8,42.8 C168.4,41.8 176.4,38.4 181.7,36.5 C186.9,34.6 193.2,32.1 197.3,31.5 C201.4,30.9 203.4,32.6 206.4,33.0 C209.3,33.4 212.4,33.7 215.2,34.0 C218.0,34.3 220.7,34.4 223.4,35.0 C226.1,35.6 228.6,36.2 231.4,37.5 C234.3,38.8 237.4,41.0 240.4,42.5 C243.4,44.0 246.7,45.2 249.4,46.5 C252.1,47.8 254.3,48.9 256.8,50.0 C259.4,51.1 262.1,52.2 264.7,53.0 C267.3,53.8 270.0,54.4 272.6,55.0 C275.2,55.6 277.6,56.6 280.2,56.5 C282.8,56.4 285.5,55.0 288.1,54.5 C290.6,54.0 294.3,53.6 295.5,53.4"/>
<path d="M165.8,47.5 C168.4,46.2 176.4,42.2 181.7,40.0 C186.9,37.8 193.2,34.8 197.3,34.0 C201.4,33.2 203.4,35.1 206.4,35.5 C209.3,35.9 212.4,36.2 215.2,36.5 C218.0,36.8 220.7,37.1 223.4,37.5 C226.1,37.9 228.6,37.9 231.4,39.0 C234.3,40.1 237.4,42.4 240.4,44.0 C243.4,45.6 246.7,47.2 249.4,48.5 C252.1,49.8 254.3,50.9 256.8,52.0 C259.4,53.1 262.1,54.2 264.7,55.0 C267.3,55.8 270.0,56.4 272.6,57.0 C275.2,57.6 277.6,58.5 280.2,58.5 C282.8,58.5 285.5,57.4 288.1,57.0 C290.6,56.6 294.3,56.3 295.5,56.2"/>
<path d="M165.8,49.5 C168.4,48.2 176.4,44.2 181.7,42.0 C186.9,39.8 193.2,37.2 197.3,36.5 C201.4,35.8 203.4,37.7 206.4,38.0 C209.3,38.3 212.4,38.3 215.2,38.5 C218.0,38.7 220.7,38.8 223.4,39.0 C226.1,39.2 228.6,39.0 231.4,40.0 C234.3,41.0 237.4,43.2 240.4,45.0 C243.4,46.8 246.7,49.1 249.4,50.5 C252.1,51.9 254.3,52.5 256.8,53.5 C259.4,54.5 262.1,55.6 264.7,56.5 C267.3,57.4 270.0,58.3 272.6,59.0 C275.2,59.7 277.6,60.5 280.2,60.5 C282.8,60.5 285.5,59.4 288.1,59.0 C290.6,58.6 294.3,58.5 295.5,58.4"/>
<path d="M165.8,53.0 C168.4,51.7 176.4,47.3 181.7,45.0 C186.9,42.7 193.2,39.8 197.3,39.0 C201.4,38.2 203.4,39.8 206.4,40.0 C209.3,40.2 212.4,39.9 215.2,40.0 C218.0,40.1 220.7,40.3 223.4,40.5 C226.1,40.7 228.6,40.1 231.4,41.0 C234.3,41.9 237.4,44.1 240.4,46.0 C243.4,47.9 246.7,51.0 249.4,52.5 C252.1,54.0 254.3,54.1 256.8,55.0 C259.4,55.9 262.1,57.1 264.7,58.0 C267.3,58.9 270.0,59.8 272.6,60.5 C275.2,61.2 277.6,61.9 280.2,62.0 C282.8,62.1 285.5,61.3 288.1,61.0 C290.6,60.7 294.3,60.2 295.5,60.0"/>
<path d="M165.8,55.0 C168.4,53.7 176.4,49.3 181.7,47.0 C186.9,44.7 193.2,42.0 197.3,41.0 C201.4,40.0 203.4,41.0 206.4,41.0 C209.3,41.0 212.4,41.0 215.2,41.0 C218.0,41.0 220.7,40.9 223.4,41.0 C226.1,41.1 228.6,40.5 231.4,41.5 C234.3,42.5 237.4,44.9 240.4,47.0 C243.4,49.1 246.7,52.4 249.4,54.0 C252.1,55.6 254.3,55.6 256.8,56.5 C259.4,57.4 262.1,58.6 264.7,59.5 C267.3,60.4 270.0,61.3 272.6,62.0 C275.2,62.7 277.6,63.8 280.2,63.9 C282.8,64.0 285.5,62.8 288.1,62.5 C290.6,62.2 294.3,62.1 295.5,62.0"/>
<path d="M165.8,57.0 C168.4,55.7 176.4,51.3 181.7,49.0 C186.9,46.7 193.2,44.2 197.3,43.0 C201.4,41.8 203.4,41.8 206.4,41.5 C209.3,41.2 212.4,41.3 215.2,41.3 C218.0,41.3 220.7,41.2 223.4,41.3 C226.1,41.4 228.6,41.2 231.4,42.0 C234.3,42.8 237.4,44.5 240.4,46.0 C243.4,47.5 246.7,49.7 249.4,51.0 C252.1,52.3 254.3,53.0 256.8,54.0 C259.4,55.0 262.1,56.1 264.7,57.0 C267.3,57.9 270.0,58.8 272.6,59.5 C275.2,60.2 277.6,60.9 280.2,61.0 C282.8,61.1 285.5,60.3 288.1,60.0 C290.6,59.7 294.3,59.2 295.5,59.0"/>
<path d="M165.8,62.5 C168.4,60.9 176.4,55.9 181.7,53.0 C186.9,50.1 193.2,46.8 197.3,45.0 C201.4,43.2 203.4,42.6 206.4,42.0 C209.3,41.4 212.4,41.6 215.2,41.5 C218.0,41.4 220.7,41.4 223.4,41.5 C226.1,41.6 228.6,41.3 231.4,42.2 C234.3,43.1 237.4,45.2 240.4,47.0 C243.4,48.8 246.7,51.6 249.4,53.0 C252.1,54.4 254.3,54.6 256.8,55.5 C259.4,56.4 262.1,57.6 264.7,58.5 C267.3,59.4 270.0,60.2 272.6,61.0 C275.2,61.8 277.6,62.8 280.2,63.0 C282.8,63.2 285.5,62.6 288.1,62.5 C290.6,62.4 294.3,62.5 295.5,62.5"/>
<path d="M165.8,77.5 C168.4,75.1 176.4,68.0 181.7,63.0 C186.9,58.0 193.2,50.1 197.3,47.5 C201.4,44.9 203.4,47.4 206.4,47.5 C209.3,47.6 212.4,48.2 215.2,48.0 C218.0,47.8 220.7,46.9 223.4,46.0 C226.1,45.1 228.6,42.1 231.4,42.6 C234.3,43.1 237.4,47.2 240.4,49.0 C243.4,50.8 246.7,52.5 249.4,53.6 C252.1,54.7 254.3,55.0 256.8,55.7 C259.4,56.4 262.1,57.0 264.7,57.8 C267.3,58.6 270.0,59.6 272.6,60.5 C275.2,61.4 277.6,61.7 280.2,63.3 C282.8,64.9 285.5,67.5 288.1,70.0 C290.6,72.5 294.3,76.8 295.5,78.2"/>
<path d="M165.8,77.8 C168.4,77.6 176.4,76.8 181.7,76.5 C186.9,76.2 193.2,75.9 197.3,75.8 C201.4,75.7 203.4,75.8 206.4,75.8 C209.3,75.8 212.4,75.9 215.2,75.9 C218.0,75.9 220.7,76.0 223.4,76.0 C226.1,76.0 228.6,76.0 231.4,76.0 C234.3,76.0 237.4,75.8 240.4,75.7 C243.4,75.6 246.7,75.4 249.4,75.4 C252.1,75.5 254.3,75.7 256.8,76.0 C259.4,76.3 262.1,76.7 264.7,77.0 C267.3,77.3 270.0,77.6 272.6,77.8 C275.2,78.0 277.6,78.2 280.2,78.2 C282.8,78.2 285.5,78.1 288.1,78.0 C290.6,77.9 294.3,77.8 295.5,77.8"/>
<path d="M165.8,79.4 C168.4,79.3 176.4,79.1 181.7,79.0 C186.9,78.9 193.2,78.7 197.3,78.6 C201.4,78.5 203.4,78.5 206.4,78.4 C209.3,78.4 212.4,78.3 215.2,78.3 C218.0,78.3 220.7,78.2 223.4,78.2 C226.1,78.2 228.6,78.2 231.4,78.2 C234.3,78.2 237.4,78.1 240.4,78.0 C243.4,77.9 246.7,77.4 249.4,77.5 C252.1,77.6 254.3,78.2 256.8,78.5 C259.4,78.8 262.1,79.2 264.7,79.5 C267.3,79.8 270.0,79.8 272.6,80.0 C275.2,80.2 277.6,80.3 280.2,80.4 C282.8,80.5 285.5,80.6 288.1,80.4 C290.6,80.2 294.3,79.6 295.5,79.4"/>
<path d="M165.8,81.0 C168.4,81.2 176.4,81.6 181.7,82.0 C186.9,82.4 193.2,83.1 197.3,83.3 C201.4,83.5 203.4,83.3 206.4,83.3 C209.3,83.3 212.4,83.4 215.2,83.2 C218.0,83.0 220.7,82.4 223.4,82.0 C226.1,81.6 228.6,81.2 231.4,80.9 C234.3,80.7 237.4,80.7 240.4,80.5 C243.4,80.3 246.7,79.7 249.4,79.8 C252.1,79.9 254.3,80.6 256.8,81.0 C259.4,81.4 262.1,81.7 264.7,82.0 C267.3,82.3 270.0,82.6 272.6,82.8 C275.2,83.0 277.6,83.1 280.2,83.1 C282.8,83.0 285.5,82.8 288.1,82.5 C290.6,82.2 294.3,81.2 295.5,81.0"/>
<path d="M165.8,85.6 C168.4,85.3 176.4,84.6 181.7,84.0 C186.9,83.4 193.2,82.3 197.3,82.0 C201.4,81.7 203.4,82.2 206.4,82.3 C209.3,82.4 212.4,82.5 215.2,82.6 C218.0,82.7 220.7,82.9 223.4,83.0 C226.1,83.1 228.6,83.0 231.4,83.1 C234.3,83.1 237.4,83.2 240.4,83.3 C243.4,83.4 246.7,83.5 249.4,83.7 C252.1,83.9 254.3,84.3 256.8,84.5 C259.4,84.7 262.1,84.8 264.7,85.0 C267.3,85.2 270.0,85.3 272.6,85.5 C275.2,85.7 277.6,85.8 280.2,85.9 C282.8,86.0 285.5,86.0 288.1,85.9 C290.6,85.9 294.3,85.6 295.5,85.6"/>
<path d="M165.8,146.9 C168.4,147.2 176.4,147.5 181.7,148.5 C186.9,149.5 193.2,151.6 197.3,152.8 C201.4,154.1 203.4,155.2 206.4,156.0 C209.3,156.8 212.4,157.2 215.2,157.6 C218.0,158.0 220.7,158.2 223.4,158.3 C226.1,158.4 228.6,158.5 231.4,158.3 C234.3,158.1 237.4,157.5 240.4,157.0 C243.4,156.5 246.7,156.2 249.4,155.4 C252.1,154.7 254.3,153.4 256.8,152.5 C259.4,151.6 262.1,150.6 264.7,149.9 C267.3,149.2 270.0,148.8 272.6,148.3 C275.2,147.9 277.6,147.5 280.2,147.2 C282.8,146.9 285.5,146.8 288.1,146.6 C290.6,146.4 294.3,146.1 295.5,146.0"/>
<path d="M165.8,150.1 C168.4,150.2 176.4,149.9 181.7,150.5 C186.9,151.1 193.2,152.7 197.3,153.5 C201.4,154.3 203.4,154.8 206.4,155.5 C209.3,156.2 212.4,156.9 215.2,157.5 C218.0,158.1 220.7,158.7 223.4,159.0 C226.1,159.3 228.6,159.6 231.4,159.5 C234.3,159.4 237.4,158.8 240.4,158.5 C243.4,158.2 246.7,158.2 249.4,157.5 C252.1,156.8 254.3,155.4 256.8,154.5 C259.4,153.6 262.1,152.7 264.7,152.1 C267.3,151.5 270.0,151.2 272.6,150.8 C275.2,150.4 277.6,149.7 280.2,149.9 C282.8,150.1 285.5,151.4 288.1,152.1 C290.6,152.8 294.3,153.9 295.5,154.3"/>
<path d="M165.8,154.4 C168.4,154.6 176.4,155.4 181.7,155.5 C186.9,155.6 193.2,154.8 197.3,155.0 C201.4,155.2 203.4,156.2 206.4,157.0 C209.3,157.8 212.4,158.9 215.2,159.5 C218.0,160.1 220.7,160.2 223.4,160.5 C226.1,160.8 228.6,160.9 231.4,161.0 C234.3,161.1 237.4,161.0 240.4,161.0 C243.4,161.0 246.7,161.3 249.4,161.0 C252.1,160.7 254.3,159.5 256.8,159.0 C259.4,158.5 262.1,158.2 264.7,158.0 C267.3,157.8 270.0,158.1 272.6,158.0 C275.2,157.9 277.6,158.6 280.2,157.6 C282.8,156.6 285.5,153.7 288.1,152.0 C290.6,150.3 294.3,148.4 295.5,147.7"/>
<path d="M165.8,159.0 C168.4,158.5 176.4,156.8 181.7,156.0 C186.9,155.2 193.2,153.8 197.3,154.0 C201.4,154.2 203.4,156.7 206.4,157.5 C209.3,158.3 212.4,158.5 215.2,159.0 C218.0,159.5 220.7,159.9 223.4,160.5 C226.1,161.1 228.6,162.2 231.4,162.5 C234.3,162.8 237.4,162.6 240.4,162.5 C243.4,162.4 246.7,162.4 249.4,162.0 C252.1,161.6 254.3,160.4 256.8,160.0 C259.4,159.6 262.1,159.6 264.7,159.5 C267.3,159.4 270.0,159.5 272.6,159.5 C275.2,159.5 277.6,159.8 280.2,159.5 C282.8,159.2 285.5,158.5 288.1,158.0 C290.6,157.5 294.3,156.8 295.5,156.5"/>
<path d="M165.8,161.5 C168.4,161.4 176.4,161.3 181.7,161.0 C186.9,160.7 193.2,159.2 197.3,159.5 C201.4,159.8 203.4,162.1 206.4,163.0 C209.3,163.9 212.4,164.8 215.2,165.0 C218.0,165.2 220.7,164.3 223.4,164.0 C226.1,163.7 228.6,163.1 231.4,163.0 C234.3,162.9 237.4,163.3 240.4,163.5 C243.4,163.7 246.7,163.4 249.4,164.0 C252.1,164.6 254.3,166.4 256.8,167.0 C259.4,167.6 262.1,167.4 264.7,167.5 C267.3,167.6 270.0,167.6 272.6,167.5 C275.2,167.4 277.6,167.8 280.2,167.0 C282.8,166.2 285.5,164.2 288.1,163.0 C290.6,161.8 294.3,160.1 295.5,159.5"/>
<path d="M165.8,164.0 C168.4,164.2 176.4,165.2 181.7,165.0 C186.9,164.8 193.2,162.9 197.3,163.0 C201.4,163.1 203.4,164.9 206.4,165.5 C209.3,166.1 212.4,166.1 215.2,166.5 C218.0,166.9 220.7,167.7 223.4,168.0 C226.1,168.3 228.6,168.7 231.4,168.5 C234.3,168.3 237.4,167.4 240.4,167.0 C243.4,166.6 246.7,165.8 249.4,166.0 C252.1,166.2 254.3,167.6 256.8,168.0 C259.4,168.4 262.1,168.4 264.7,168.5 C267.3,168.6 270.0,168.6 272.6,168.5 C275.2,168.4 277.6,168.4 280.2,168.0 C282.8,167.6 285.5,167.0 288.1,166.0 C290.6,165.0 294.3,162.7 295.5,162.0"/>
<path d="M165.8,166.5 C168.4,166.8 176.4,168.1 181.7,168.0 C186.9,167.9 193.2,166.0 197.3,166.0 C201.4,166.0 203.4,167.5 206.4,168.0 C209.3,168.5 212.4,168.7 215.2,169.0 C218.0,169.3 220.7,169.7 223.4,170.0 C226.1,170.3 228.6,170.8 231.4,171.0 C234.3,171.2 237.4,171.4 240.4,171.5 C243.4,171.6 246.7,171.8 249.4,171.5 C252.1,171.2 254.3,170.3 256.8,170.0 C259.4,169.7 262.1,169.6 264.7,169.5 C267.3,169.4 270.0,169.4 272.6,169.5 C275.2,169.6 277.6,170.2 280.2,170.0 C282.8,169.8 285.5,168.8 288.1,168.0 C290.6,167.2 294.3,165.5 295.5,165.0"/>
<path d="M165.8,158.0 C168.4,158.8 176.4,161.2 181.7,163.0 C186.9,164.8 193.2,167.7 197.3,169.0 C201.4,170.3 203.4,170.8 206.4,171.0 C209.3,171.2 212.4,170.2 215.2,170.0 C218.0,169.8 220.7,169.3 223.4,169.5 C226.1,169.7 228.6,170.4 231.4,171.0 C234.3,171.6 237.4,172.4 240.4,173.0 C243.4,173.6 246.7,174.3 249.4,174.5 C252.1,174.7 254.3,174.2 256.8,174.0 C259.4,173.8 262.1,173.3 264.7,173.0 C267.3,172.7 270.0,172.3 272.6,172.0 C275.2,171.7 277.6,171.3 280.2,171.0 C282.8,170.7 285.5,170.5 288.1,170.0 C290.6,169.5 294.3,168.3 295.5,168.0"/>
<path d="M165.8,170.0 C168.4,169.3 176.4,165.8 181.7,166.0 C186.9,166.2 193.2,169.7 197.3,171.0 C201.4,172.3 203.4,173.7 206.4,174.0 C209.3,174.3 212.4,173.2 215.2,173.0 C218.0,172.8 220.7,172.3 223.4,173.0 C226.1,173.7 228.6,176.2 231.4,177.0 C234.3,177.8 237.4,178.0 240.4,178.0 C243.4,178.0 246.7,177.3 249.4,177.0 C252.1,176.7 254.3,176.0 256.8,176.0 C259.4,176.0 262.1,176.8 264.7,177.0 C267.3,177.2 270.0,177.5 272.6,177.5 C275.2,177.5 277.6,177.6 280.2,177.0 C282.8,176.4 285.5,175.0 288.1,174.0 C290.6,173.0 294.3,171.5 295.5,171.0"/>
<path d="M165.8,172.5 C168.4,172.6 176.4,172.8 181.7,173.0 C186.9,173.2 193.2,173.5 197.3,174.0 C201.4,174.5 203.4,175.5 206.4,176.0 C209.3,176.5 212.4,176.9 215.2,177.0 C218.0,177.1 220.7,176.4 223.4,176.5 C226.1,176.6 228.6,177.1 231.4,177.5 C234.3,177.9 237.4,178.6 240.4,179.0 C243.4,179.4 246.7,180.0 249.4,180.0 C252.1,180.0 254.3,179.3 256.8,179.0 C259.4,178.7 262.1,178.2 264.7,178.0 C267.3,177.8 270.0,177.9 272.6,178.0 C275.2,178.1 277.6,178.8 280.2,178.5 C282.8,178.2 285.5,176.8 288.1,176.0 C290.6,175.2 294.3,174.3 295.5,174.0"/>
<path d="M165.8,175.0 C168.4,175.3 176.4,176.5 181.7,177.0 C186.9,177.5 193.2,177.7 197.3,178.0 C201.4,178.3 203.4,178.7 206.4,179.0 C209.3,179.3 212.4,179.8 215.2,180.0 C218.0,180.2 220.7,180.0 223.4,180.0 C226.1,180.0 228.6,179.8 231.4,180.0 C234.3,180.2 237.4,180.5 240.4,181.0 C243.4,181.5 246.7,182.3 249.4,183.0 C252.1,183.7 254.3,184.4 256.8,185.0 C259.4,185.6 262.1,186.2 264.7,186.5 C267.3,186.8 270.0,187.1 272.6,187.0 C275.2,186.9 277.6,186.8 280.2,186.0 C282.8,185.2 285.5,183.5 288.1,182.0 C290.6,180.5 294.3,177.8 295.5,177.0"/>
<path d="M165.8,177.5 C168.4,177.9 176.4,179.4 181.7,180.0 C186.9,180.6 193.2,180.7 197.3,181.0 C201.4,181.3 203.4,181.7 206.4,182.0 C209.3,182.3 212.4,182.8 215.2,183.0 C218.0,183.2 220.7,183.1 223.4,183.0 C226.1,182.9 228.6,182.5 231.4,182.5 C234.3,182.5 237.4,182.6 240.4,183.0 C243.4,183.4 246.7,184.3 249.4,185.0 C252.1,185.7 254.3,186.6 256.8,187.0 C259.4,187.4 262.1,187.3 264.7,187.5 C267.3,187.7 270.0,187.9 272.6,188.0 C275.2,188.1 277.6,188.5 280.2,188.0 C282.8,187.5 285.5,186.2 288.1,185.0 C290.6,183.8 294.3,181.7 295.5,181.0"/>
<path d="M165.8,181.0 C168.4,180.5 176.4,178.8 181.7,178.0 C186.9,177.2 193.2,175.8 197.3,176.0 C201.4,176.2 203.4,178.0 206.4,179.0 C209.3,180.0 212.4,181.0 215.2,182.0 C218.0,183.0 220.7,184.2 223.4,185.0 C226.1,185.8 228.6,186.5 231.4,187.0 C234.3,187.5 237.4,187.8 240.4,188.0 C243.4,188.2 246.7,188.2 249.4,188.5 C252.1,188.8 254.3,189.6 256.8,190.0 C259.4,190.4 262.1,191.0 264.7,191.0 C267.3,191.0 270.0,190.4 272.6,190.0 C275.2,189.6 277.6,189.2 280.2,188.5 C282.8,187.8 285.5,186.8 288.1,186.0 C290.6,185.2 294.3,184.3 295.5,184.0"/>
<path d="M165.8,184.5 C168.4,184.8 176.4,186.2 181.7,186.0 C186.9,185.8 193.2,183.2 197.3,183.0 C201.4,182.8 203.4,184.5 206.4,185.0 C209.3,185.5 212.4,185.5 215.2,186.0 C218.0,186.5 220.7,187.3 223.4,188.0 C226.1,188.7 228.6,189.5 231.4,190.0 C234.3,190.5 237.4,190.7 240.4,191.0 C243.4,191.3 246.7,191.7 249.4,192.0 C252.1,192.3 254.3,192.7 256.8,193.0 C259.4,193.3 262.1,194.0 264.7,194.0 C267.3,194.0 270.0,193.5 272.6,193.0 C275.2,192.5 277.6,191.7 280.2,191.0 C282.8,190.3 285.5,189.8 288.1,189.0 C290.6,188.2 294.3,186.5 295.5,186.0"/>
<path d="M165.8,191.0 C168.4,191.5 176.4,194.5 181.7,194.0 C186.9,193.5 193.2,189.0 197.3,188.0 C201.4,187.0 203.4,187.8 206.4,188.0 C209.3,188.2 212.4,188.5 215.2,189.0 C218.0,189.5 220.7,190.3 223.4,191.0 C226.1,191.7 228.6,192.5 231.4,193.0 C234.3,193.5 237.4,193.7 240.4,194.0 C243.4,194.3 246.7,194.6 249.4,195.0 C252.1,195.4 254.3,196.2 256.8,196.5 C259.4,196.8 262.1,197.0 264.7,197.0 C267.3,197.0 270.0,196.7 272.6,196.5 C275.2,196.3 277.6,196.4 280.2,196.0 C282.8,195.6 285.5,194.7 288.1,194.0 C290.6,193.3 294.3,192.3 295.5,192.0"/>
<path d="M165.8,196.5 C168.4,196.4 176.4,196.8 181.7,196.0 C186.9,195.2 193.2,192.8 197.3,192.0 C201.4,191.2 203.4,191.0 206.4,191.0 C209.3,191.0 212.4,191.5 215.2,192.0 C218.0,192.5 220.7,193.3 223.4,194.0 C226.1,194.7 228.6,195.5 231.4,196.0 C234.3,196.5 237.4,196.7 240.4,197.0 C243.4,197.3 246.7,197.7 249.4,198.0 C252.1,198.3 254.3,198.8 256.8,198.7 C259.4,198.5 262.1,197.5 264.7,197.1 C267.3,196.7 270.0,196.7 272.6,196.5 C275.2,196.3 277.6,195.8 280.2,196.0 C282.8,196.2 285.5,196.7 288.1,198.0 C290.6,199.3 294.3,202.8 295.5,203.7"/>
<path d="M165.8,171.0 C168.4,172.2 176.4,174.5 181.7,178.0 C186.9,181.5 193.2,188.8 197.3,192.0 C201.4,195.2 203.4,195.7 206.4,197.0 C209.3,198.3 212.4,199.3 215.2,200.0 C218.0,200.7 220.7,200.7 223.4,201.0 C226.1,201.3 228.6,202.0 231.4,202.0 C234.3,202.0 237.4,201.1 240.4,201.0 C243.4,200.9 246.7,200.3 249.4,201.5 C252.1,202.7 254.3,206.3 256.8,208.1 C259.4,209.9 262.1,211.1 264.7,212.5 C267.3,213.9 270.0,215.5 272.6,216.4 C275.2,217.3 277.6,218.3 280.2,218.0 C282.8,217.7 285.5,216.5 288.1,214.7 C290.6,212.9 294.3,208.3 295.5,207.0"/>
<path d="M165.8,203.2 C168.4,202.7 176.4,201.2 181.7,200.0 C186.9,198.8 193.2,196.8 197.3,196.0 C201.4,195.2 203.4,195.1 206.4,195.0 C209.3,194.9 212.4,195.2 215.2,195.5 C218.0,195.8 220.7,196.5 223.4,197.0 C226.1,197.5 228.6,198.2 231.4,198.5 C234.3,198.8 237.4,198.8 240.4,199.0 C243.4,199.2 246.7,199.2 249.4,199.5 C252.1,199.8 254.3,200.4 256.8,201.0 C259.4,201.6 262.1,202.3 264.7,203.0 C267.3,203.7 270.0,204.5 272.6,205.0 C275.2,205.5 277.6,206.2 280.2,206.0 C282.8,205.8 285.5,204.8 288.1,204.0 C290.6,203.2 294.3,201.9 295.5,201.5"/>
<path d="M165.8,162.0 C168.4,163.3 176.4,167.0 181.7,170.0 C186.9,173.0 193.2,177.3 197.3,180.0 C201.4,182.7 203.4,184.3 206.4,186.0 C209.3,187.7 212.4,190.0 215.2,190.0 C218.0,190.0 220.7,187.3 223.4,186.0 C226.1,184.7 228.6,183.7 231.4,182.0 C234.3,180.3 237.4,178.0 240.4,176.0 C243.4,174.0 246.7,171.7 249.4,170.0 C252.1,168.3 254.3,167.2 256.8,166.0 C259.4,164.8 262.1,163.7 264.7,163.0 C267.3,162.3 270.0,162.0 272.6,162.0 C275.2,162.0 277.6,162.5 280.2,163.0 C282.8,163.5 285.5,163.8 288.1,165.0 C290.6,166.2 294.3,169.2 295.5,170.0"/>
<path d="M165.8,216.3 C168.4,215.2 176.4,212.2 181.7,210.0 C186.9,207.8 193.2,204.5 197.3,203.0 C201.4,201.5 203.4,201.4 206.4,201.0 C209.3,200.6 212.4,200.3 215.2,200.5 C218.0,200.7 220.7,201.3 223.4,202.0 C226.1,202.7 228.6,203.6 231.4,204.8 C234.3,206.0 237.4,207.2 240.4,209.0 C243.4,210.8 246.7,214.1 249.4,215.8 C252.1,217.5 254.3,218.1 256.8,219.0 C259.4,219.9 262.1,220.7 264.7,221.0 C267.3,221.3 270.0,221.2 272.6,221.0 C275.2,220.8 277.6,220.3 280.2,220.0 C282.8,219.7 285.5,219.3 288.1,219.0 C290.6,218.7 294.3,218.2 295.5,218.0"/>
<path d="M165.8,221.6 C168.4,220.5 176.4,217.3 181.7,215.0 C186.9,212.7 193.2,209.2 197.3,208.0 C201.4,206.8 203.4,207.7 206.4,208.0 C209.3,208.3 212.4,209.3 215.2,210.0 C218.0,210.7 220.7,211.2 223.4,212.0 C226.1,212.8 228.6,215.2 231.4,214.7 C234.3,214.2 237.4,211.0 240.4,209.0 C243.4,207.0 246.7,202.4 249.4,202.6 C252.1,202.8 254.3,207.4 256.8,210.0 C259.4,212.6 262.1,216.0 264.7,218.0 C267.3,220.0 270.0,221.0 272.6,222.0 C275.2,223.0 277.6,223.3 280.2,224.0 C282.8,224.7 285.5,225.5 288.1,226.0 C290.6,226.5 294.3,226.8 295.5,227.0"/>
<path d="M165.8,224.5 C168.4,224.1 176.4,223.1 181.7,222.0 C186.9,220.9 193.2,219.3 197.3,218.0 C201.4,216.7 203.4,214.8 206.4,214.0 C209.3,213.2 212.4,213.0 215.2,213.0 C218.0,213.0 220.7,213.5 223.4,214.0 C226.1,214.5 228.6,215.3 231.4,216.0 C234.3,216.7 237.4,217.3 240.4,218.0 C243.4,218.7 246.7,219.3 249.4,220.0 C252.1,220.7 254.3,221.3 256.8,222.0 C259.4,222.7 262.1,223.0 264.7,224.0 C267.3,225.0 270.0,226.6 272.6,228.0 C275.2,229.4 277.6,232.3 280.2,232.3 C282.8,232.3 285.5,229.4 288.1,228.0 C290.6,226.6 294.3,224.7 295.5,224.0"/>
<path d="M165.8,231.2 C168.4,230.5 176.4,228.4 181.7,227.2 C186.9,226.0 193.2,224.2 197.3,224.0 C201.4,223.8 203.4,224.9 206.4,226.0 C209.3,227.1 212.4,229.7 215.2,230.4 C218.0,231.1 220.7,230.4 223.4,230.0 C226.1,229.6 228.6,228.4 231.4,228.0 C234.3,227.6 237.4,227.6 240.4,227.5 C243.4,227.4 246.7,227.1 249.4,227.3 C252.1,227.6 254.3,228.4 256.8,229.0 C259.4,229.6 262.1,230.5 264.7,231.0 C267.3,231.5 270.0,231.8 272.6,232.0 C275.2,232.2 277.6,232.6 280.2,232.3 C282.8,232.0 285.5,230.7 288.1,230.0 C290.6,229.3 294.3,228.2 295.5,227.9"/>
<path d="M165.8,240.0 C168.4,239.3 176.4,237.2 181.7,236.0 C186.9,234.8 193.2,233.7 197.3,233.0 C201.4,232.3 203.4,232.2 206.4,232.0 C209.3,231.8 212.4,232.2 215.2,232.0 C218.0,231.8 220.7,231.2 223.4,231.0 C226.1,230.8 228.6,230.7 231.4,230.5 C234.3,230.3 237.4,230.1 240.4,230.0 C243.4,229.9 246.7,229.7 249.4,230.0 C252.1,230.3 254.3,231.3 256.8,232.0 C259.4,232.7 262.1,233.7 264.7,234.0 C267.3,234.3 270.0,234.3 272.6,234.0 C275.2,233.7 277.6,232.6 280.2,232.3 C282.8,232.0 285.5,232.1 288.1,232.0 C290.6,231.9 294.3,231.8 295.5,231.7"/>
<path d="M165.8,242.5 C168.4,241.9 176.4,240.3 181.7,239.0 C186.9,237.7 193.2,235.5 197.3,234.7 C201.4,233.9 203.4,234.1 206.4,234.0 C209.3,233.9 212.4,234.1 215.2,234.0 C218.0,233.9 220.7,233.8 223.4,233.5 C226.1,233.2 228.6,232.8 231.4,232.5 C234.3,232.2 237.4,232.1 240.4,232.0 C243.4,231.9 246.7,231.5 249.4,232.0 C252.1,232.5 254.3,234.0 256.8,235.0 C259.4,236.0 262.1,237.3 264.7,238.0 C267.3,238.7 270.0,239.0 272.6,239.0 C275.2,239.0 277.6,238.0 280.2,238.0 C282.8,238.0 285.5,238.8 288.1,239.0 C290.6,239.2 294.3,239.3 295.5,239.4"/>
<path d="M165.8,246.2 C168.4,245.7 176.4,244.8 181.7,243.2 C186.9,241.6 193.2,237.9 197.3,236.8 C201.4,235.7 203.4,236.5 206.4,236.5 C209.3,236.5 212.4,237.1 215.2,237.0 C218.0,236.9 220.7,236.5 223.4,236.0 C226.1,235.5 228.6,234.3 231.4,234.0 C234.3,233.7 237.4,233.8 240.4,234.0 C243.4,234.2 246.7,234.3 249.4,235.0 C252.1,235.7 254.3,236.9 256.8,238.0 C259.4,239.1 262.1,240.8 264.7,241.6 C267.3,242.4 270.0,242.5 272.6,243.0 C275.2,243.5 277.6,244.0 280.2,244.4 C282.8,244.8 285.5,245.1 288.1,245.5 C290.6,245.9 294.3,246.4 295.5,246.6"/>
</g>
<g clip-path="url(#rclip)">
<defs><clipPath id="rclip"><rect x="361.2" y="10.7" width="249.00000000000006" height="243.5"/></clipPath></defs>
<polyline points="361.2,49.6 367.1,49.6 370.2,46.6 374.3,38.4 378.3,31.0 380.0,34.0 381.4,38.4 383.4,40.0 386.5,40.4 389.6,40.0 392.6,41.5 394.7,42.0 396.7,43.5 398.8,42.5 400.8,45.1 404.3,49.0 405.9,43.5 408.3,38.4 410.0,36.4 411.6,39.4 413.7,37.4 415.1,33.3 416.5,35.3 418.1,28.2 420.2,36.4 422.0,33.9 425.1,33.3 428.2,34.3 430.2,35.3 432.2,32.7 434.3,34.3 436.3,35.3 438.4,34.7 440.4,33.3 442.4,30.2 444.5,28.2 446.5,27.2 447.6,23.1 449.0,19.0 450.2,24.1 451.6,34.3 453.7,33.3 455.7,35.3 458.8,37.4 460.8,39.4 462.9,42.5 464.9,45.6 468.0,46.6 470.0,47.6 473.1,48.6 475.1,46.6 477.6,44.1 479.6,45.0 481.2,47.6 483.0,49.4 486.0,49.6 532.0,49.6 554.5,49.6 558.6,45.6 562.7,40.9 566.7,37.4 570.8,35.3 574.9,32.7 577.0,33.3 579.0,35.3 581.4,38.4 584.5,42.1 587.6,44.1 590.6,44.5 593.1,45.0 594.7,41.5 596.7,36.4 599.8,33.9 602.9,34.3 605.9,36.0 608.0,38.4 610.0,40.4" fill="none" stroke="#000" stroke-width="2.6" stroke-linejoin="round" stroke-linecap="round" />
<polyline points="361.2,49.6 367.1,49.6 370.2,52.7 374.3,60.9 377.3,69.0 379.0,74.1 380.4,65.0 381.4,59.8 383.4,57.8 387.5,57.8 391.6,57.8 393.7,55.8 395.7,55.3 397.7,56.4 399.8,55.3 401.8,56.4 404.9,54.7 406.9,55.8 409.0,56.4 411.0,59.8 413.0,62.9 414.5,58.8 416.1,56.8 418.1,59.8 420.0,59.8 422.0,60.9 424.1,61.9 427.1,62.9 429.2,63.9 432.2,66.0 434.3,70.0 436.3,74.7 438.4,73.1 440.4,69.0 442.0,73.1 443.5,70.7 445.5,73.1 447.6,75.1 449.6,69.0 451.6,66.0 453.7,60.9 455.7,59.8 458.8,57.8 461.8,55.8 463.9,54.3 466.9,52.7 470.0,50.7 472.0,49.4 473.5,49.6 532.0,49.6 535.1,51.7 537.1,55.8 540.2,59.8 542.2,60.9 543.3,55.8 544.3,50.2 546.0,49.6 554.5,49.6 558.6,52.7 562.7,56.8 566.7,60.9 570.8,63.9 574.9,66.0 579.0,65.0 582.0,60.9 585.1,57.8 589.2,56.4 590.6,55.8 593.7,56.8 596.7,59.8 599.8,61.9 601.8,60.9 602.9,66.0 603.9,72.7 605.3,67.0 606.9,64.9 610.0,65.3" fill="none" stroke="#000" stroke-width="2.6" stroke-linejoin="round" stroke-linecap="round" />
<polyline points="361.2,132.4 369.2,132.4 373.2,129.0 378.0,125.6 380.0,128.0 382.1,129.0 385.5,129.0 389.6,128.6 393.0,128.0 395.0,129.0 397.1,128.3 399.1,127.6 401.8,129.0 404.3,131.0 406.6,128.0 409.3,125.6 411.3,127.0 413.4,124.9 415.4,122.2 417.0,120.2 418.8,123.6 420.2,125.6 422.7,124.9 425.4,125.6 428.2,126.3 430.9,127.0 433.6,128.0 436.3,128.6 439.0,127.6 441.8,125.6 444.5,124.9 446.5,124.2 448.6,120.8 450.2,123.6 451.6,127.2 454.0,126.3 456.7,125.9 458.8,125.9 460.8,128.3 463.5,130.8 466.3,129.7 468.3,129.0 470.3,130.8 472.4,131.0 474.4,128.3 476.5,124.9 479.2,124.9 481.2,129.0 483.0,131.7 486.0,132.4 537.0,132.4 545.0,132.6 560.0,132.6 575.0,132.2 590.0,132.0 600.0,132.4 610.0,132.4" fill="none" stroke="#ff0000" stroke-width="2.5" stroke-linejoin="round" stroke-linecap="round" />
<polyline points="361.2,132.4 369.2,132.4 373.2,135.1 378.0,139.2 380.0,135.8 382.8,135.1 386.9,135.4 390.9,134.9 394.3,134.9 396.4,135.4 399.1,136.8 401.8,136.2 403.9,135.8 405.9,134.4 407.9,136.2 410.0,137.9 412.0,139.2 414.1,136.5 416.8,135.4 418.8,137.2 420.9,136.5 422.7,137.9 425.4,139.2 428.2,140.6 430.9,140.6 433.6,142.6 435.6,148.0 437.7,146.7 440.4,144.0 442.4,146.7 444.5,146.0 446.5,145.3 448.6,147.4 450.6,145.3 453.3,138.5 456.0,137.9 458.8,137.2 461.5,135.1 464.9,133.1 469.0,131.9 473.1,131.9 483.0,132.2 530.0,132.4 537.0,133.0 540.0,135.5 543.0,134.0 550.0,133.4 565.0,133.6 575.0,134.0 585.0,134.2 595.0,133.5 600.0,134.2 605.0,134.6 610.0,134.0" fill="none" stroke="#ff0000" stroke-width="2.5" stroke-linejoin="round" stroke-linecap="round" />
<polyline points="361.2,215.6 420.0,217.0 440.0,218.0 470.0,216.5 486.0,216.0 533.0,216.0 535.8,275.0 537.0,275.0 544.0,216.0 555.0,216.4 565.0,217.6 572.0,219.5 580.0,220.2 585.0,218.5 595.0,216.5 610.0,217.0" fill="none" stroke="#ff00ff" stroke-width="2.5" stroke-linejoin="round" stroke-linecap="round" />
<polyline points="361.2,215.6 400.0,216.4 420.0,217.5 430.0,219.0 436.2,221.3 440.0,219.5 450.0,218.8 460.0,217.5 470.0,216.8 486.0,216.0 533.0,216.0 536.3,232.0 537.5,275.0 542.5,275.0 545.0,216.2 555.0,216.4 565.0,218.5 572.0,220.3 578.0,220.3 585.0,219.0 595.0,217.5 603.0,219.2 610.0,219.6" fill="none" stroke="#800000" stroke-width="2.5" stroke-linejoin="round" stroke-linecap="round" />
<polyline points="361.2,215.6 380.0,215.8 400.0,216.4 420.0,216.6 440.0,216.8 460.0,216.4 480.0,215.8 531.4,215.6 535.3,275.0 541.8,275.0 545.6,215.6 555.0,215.5 563.0,216.7 572.6,219.4 580.0,219.0 589.0,216.7 595.0,216.0 600.0,217.0 605.0,217.3 610.0,217.0" fill="none" stroke="#008000" stroke-width="2.5" stroke-linejoin="round" stroke-linecap="round" />
<polyline points="361.2,215.4 370.0,214.5 380.0,213.0 390.0,212.0 396.7,209.5 401.8,205.0 404.4,211.0 407.8,202.0 410.3,196.0 412.0,204.0 414.6,194.0 416.3,186.0 417.5,184.0 419.0,190.0 420.0,190.7 423.4,195.8 428.5,200.9 433.6,205.2 437.9,208.6 440.4,207.7 443.8,203.5 446.4,200.9 448.6,189.0 450.3,202.6 452.3,200.1 454.9,199.2 456.6,197.5 459.1,199.2 461.7,207.7 464.2,210.3 466.8,197.5 469.3,189.0 471.0,200.9 472.7,207.7 475.3,200.9 477.8,187.3 479.4,183.9 481.1,187.3 482.8,202.6 484.5,212.8 486.2,215.4" fill="none" stroke="#ff00ff" stroke-width="2.5" stroke-linejoin="round" stroke-linecap="round" />
<polyline points="361.2,215.4 368.0,215.0 376.3,212.0 383.1,212.0 388.2,211.1 393.3,208.6 396.7,210.3 401.8,204.3 404.4,212.0 407.8,200.9 410.3,192.4 412.0,206.0 414.6,192.4 417.1,180.5 418.8,192.4 420.5,206.0 421.5,197.0 422.2,192.4 423.0,200.0 425.1,197.5 427.7,205.2 431.9,206.9 437.0,209.4 440.4,211.1 443.8,212.8 448.1,213.7 451.5,213.7 454.0,212.0 456.6,206.0 459.1,203.5 460.8,209.4 463.4,212.8 466.8,210.3 469.3,208.6 471.9,197.5 473.6,182.0 475.1,177.1 476.8,182.2 478.5,197.5 480.2,211.1 482.8,213.7 485.3,214.5" fill="none" stroke="#800000" stroke-width="2.5" stroke-linejoin="round" stroke-linecap="round" />
<polyline points="361.2,215.4 367.8,215.4 374.6,212.8 381.4,212.0 388.2,212.8 395.0,213.7 401.8,213.7 406.9,212.8 410.3,210.3 412.9,206.0 414.6,195.8 416.3,182.2 417.5,177.1 419.2,177.1 420.9,185.6 422.6,189.0 424.3,192.4 427.7,194.1 430.2,197.5 433.6,199.2 436.2,203.5 438.4,208.6 441.3,204.3 443.8,200.1 447.2,194.1 450.6,197.5 453.2,191.6 455.7,189.9 457.8,188.2 459.5,185.6 460.8,194.1 461.7,205.2 463.4,209.4 465.9,208.6 468.5,205.2 471.0,210.3 472.5,212.0 474.3,212.8 476.8,206.0 478.5,199.2 480.2,198.4 481.9,204.3 484.5,212.8 486.2,215.4 531.8,215.4" fill="none" stroke="#008000" stroke-width="2.5" stroke-linejoin="round" stroke-linecap="round" />
<polyline points="486.0,215.2 531.4,215.2 545.6,215.2 555.0,214.8 565.0,214.3 575.0,214.0 585.0,214.3 595.0,214.0 600.0,213.6 605.0,214.0 610.0,214.3" fill="none" stroke="#008000" stroke-width="2.5" stroke-linejoin="round" stroke-linecap="round" />
</g>
<line x1="67.4" y1="10.8" x2="67.4" y2="253.5" stroke="#222" stroke-width="1.2"/>
<line x1="84.6" y1="10.8" x2="84.6" y2="253.5" stroke="#222" stroke-width="1.2"/>
<line x1="101.6" y1="10.8" x2="101.6" y2="253.5" stroke="#222" stroke-width="1.2"/>
<line x1="118.8" y1="10.8" x2="118.8" y2="253.5" stroke="#222" stroke-width="1.2"/>
<line x1="149.6" y1="10.8" x2="149.6" y2="253.5" stroke="#222" stroke-width="1.2"/>
<line x1="197.4" y1="10.8" x2="197.4" y2="253.5" stroke="#222" stroke-width="1.2"/>
<line x1="215.3" y1="10.8" x2="215.3" y2="253.5" stroke="#222" stroke-width="1.2"/>
<line x1="231.6" y1="10.8" x2="231.6" y2="253.5" stroke="#222" stroke-width="1.2"/>
<line x1="249.7" y1="10.8" x2="249.7" y2="253.5" stroke="#222" stroke-width="1.2"/>
<line x1="280.1" y1="10.8" x2="280.1" y2="253.5" stroke="#222" stroke-width="1.2"/>
<line x1="165.8" y1="10.8" x2="165.8" y2="253.5" stroke="#666" stroke-width="1.5"/>
<line x1="36.5" y1="131.5" x2="295.5" y2="131.5" stroke="#b0b0b0" stroke-width="1.2"/>
<line x1="36.5" y1="131.5" x2="295.5" y2="131.5" stroke="#111" stroke-width="1.4" stroke-dasharray="5.6,6" stroke-dashoffset="8.9"/>
<line x1="295.5" y1="10.8" x2="295.5" y2="253.5" stroke="#777" stroke-width="1.1"/>
<line x1="36.5" y1="10.200000000000001" x2="36.5" y2="254.1" stroke="#000" stroke-width="1.5"/>
<line x1="31.5" y1="253.5" x2="295.5" y2="253.5" stroke="#222" stroke-width="1.2"/>
<line x1="31.5" y1="253.50" x2="36.5" y2="253.50" stroke="#222" stroke-width="1.1"/>
<text x="28.7" y="257.60" font-size="11.3" font-weight="bold" text-anchor="end" font-family="Liberation Sans, sans-serif">-6</text>
<line x1="34.0" y1="233.28" x2="36.5" y2="233.28" stroke="#222" stroke-width="1.1"/>
<line x1="31.5" y1="213.05" x2="36.5" y2="213.05" stroke="#222" stroke-width="1.1"/>
<text x="28.7" y="217.15" font-size="11.3" font-weight="bold" text-anchor="end" font-family="Liberation Sans, sans-serif">-4</text>
<line x1="34.0" y1="192.83" x2="36.5" y2="192.83" stroke="#222" stroke-width="1.1"/>
<line x1="31.5" y1="172.60" x2="36.5" y2="172.60" stroke="#222" stroke-width="1.1"/>
<text x="28.7" y="176.70" font-size="11.3" font-weight="bold" text-anchor="end" font-family="Liberation Sans, sans-serif">-2</text>
<line x1="34.0" y1="152.38" x2="36.5" y2="152.38" stroke="#222" stroke-width="1.1"/>
<line x1="31.5" y1="132.15" x2="36.5" y2="132.15" stroke="#222" stroke-width="1.1"/>
<text x="28.7" y="136.25" font-size="11.3" font-weight="bold" text-anchor="end" font-family="Liberation Sans, sans-serif">0</text>
<line x1="34.0" y1="111.93" x2="36.5" y2="111.93" stroke="#222" stroke-width="1.1"/>
<line x1="31.5" y1="91.70" x2="36.5" y2="91.70" stroke="#222" stroke-width="1.1"/>
<text x="28.7" y="95.80" font-size="11.3" font-weight="bold" text-anchor="end" font-family="Liberation Sans, sans-serif">2</text>
<line x1="34.0" y1="71.47" x2="36.5" y2="71.47" stroke="#222" stroke-width="1.1"/>
<line x1="31.5" y1="51.25" x2="36.5" y2="51.25" stroke="#222" stroke-width="1.1"/>
<text x="28.7" y="55.35" font-size="11.3" font-weight="bold" text-anchor="end" font-family="Liberation Sans, sans-serif">4</text>
<line x1="34.0" y1="31.03" x2="36.5" y2="31.03" stroke="#222" stroke-width="1.1"/>
<line x1="31.5" y1="10.80" x2="36.5" y2="10.80" stroke="#222" stroke-width="1.1"/>
<text x="28.7" y="14.90" font-size="11.3" font-weight="bold" text-anchor="end" font-family="Liberation Sans, sans-serif">6</text>
<text transform="translate(16.6,120.1) rotate(-90)" font-size="14" font-weight="bold" text-anchor="middle" font-family="Liberation Sans, sans-serif">Energy(eV)</text>
<text x="67.4" y="268.5" font-size="14" font-weight="bold" text-anchor="middle" font-family="Liberation Sans, sans-serif">M</text>
<text x="84.6" y="268.5" font-size="14" font-weight="bold" text-anchor="middle" font-family="Liberation Sans, sans-serif">K</text>
<text x="101.6" y="268.5" font-size="14" font-weight="bold" text-anchor="middle" font-family="Liberation Sans, sans-serif">H</text>
<text x="118.8" y="268.5" font-size="14" font-weight="bold" text-anchor="middle" font-family="Liberation Sans, sans-serif">L</text>
<text x="149.6" y="268.5" font-size="14" font-weight="bold" text-anchor="middle" font-family="Liberation Sans, sans-serif">A</text>
<text x="197.4" y="268.5" font-size="14" font-weight="bold" text-anchor="middle" font-family="Liberation Sans, sans-serif">M</text>
<text x="215.3" y="268.5" font-size="14" font-weight="bold" text-anchor="middle" font-family="Liberation Sans, sans-serif">K</text>
<text x="231.6" y="268.5" font-size="14" font-weight="bold" text-anchor="middle" font-family="Liberation Sans, sans-serif">H</text>
<text x="249.7" y="268.5" font-size="14" font-weight="bold" text-anchor="middle" font-family="Liberation Sans, sans-serif">L</text>
<text x="280.1" y="268.5" font-size="14" font-weight="bold" text-anchor="middle" font-family="Liberation Sans, sans-serif">A</text>
<text x="39.0" y="268.5" font-size="14" text-anchor="middle" font-family="Liberation Serif, serif">&#915;</text>
<text x="168.3" y="268.5" font-size="14" text-anchor="middle" font-family="Liberation Serif, serif">&#915;</text>
<text x="297.0" y="268.5" font-size="14" text-anchor="middle" font-family="Liberation Serif, serif">&#915;</text>
<rect x="36.5" y="10.8" width="21.5" height="20.2" fill="#fff" stroke="#bbb" stroke-width="0.8"/>
<text x="47.3" y="26.6" font-size="14" font-weight="bold" text-anchor="middle" font-family="Liberation Sans, sans-serif">(a)</text>
<rect x="74.4" y="12.4" width="53.5" height="18.2" fill="#fff" stroke="#bbb" stroke-width="0.8"/>
<text x="101.1" y="25.9" font-size="12.5" font-weight="bold" text-anchor="middle" font-family="Liberation Sans, sans-serif">Spin up</text>
<rect x="205.3" y="12.7" width="53.1" height="18.3" fill="#fff" stroke="#bbb" stroke-width="0.8"/>
<text x="231.8" y="25.9" font-size="12.5" font-weight="bold" text-anchor="middle" font-family="Liberation Sans, sans-serif">Spin dn</text>
<line x1="485.7" y1="10.7" x2="485.7" y2="254.2" stroke="#222" stroke-width="1.5" stroke-dasharray="5.8,5.8" stroke-dashoffset="7.6"/>
<rect x="361.2" y="10.7" width="249.00000000000006" height="243.5" fill="none" stroke="#222" stroke-width="1.2"/>
<line x1="361.2" y1="88.5" x2="610.2" y2="88.5" stroke="#222" stroke-width="1.1"/>
<line x1="361.2" y1="170.8" x2="610.2" y2="170.8" stroke="#222" stroke-width="1.1"/>
<line x1="381.95" y1="88.5" x2="381.95" y2="90.7" stroke="#222" stroke-width="1"/>
<line x1="402.70" y1="88.5" x2="402.70" y2="93.0" stroke="#222" stroke-width="1"/>
<line x1="423.45" y1="88.5" x2="423.45" y2="90.7" stroke="#222" stroke-width="1"/>
<line x1="444.20" y1="88.5" x2="444.20" y2="93.0" stroke="#222" stroke-width="1"/>
<line x1="464.95" y1="88.5" x2="464.95" y2="90.7" stroke="#222" stroke-width="1"/>
<line x1="485.70" y1="88.5" x2="485.70" y2="93.0" stroke="#222" stroke-width="1"/>
<line x1="506.45" y1="88.5" x2="506.45" y2="90.7" stroke="#222" stroke-width="1"/>
<line x1="527.20" y1="88.5" x2="527.20" y2="93.0" stroke="#222" stroke-width="1"/>
<line x1="547.95" y1="88.5" x2="547.95" y2="90.7" stroke="#222" stroke-width="1"/>
<line x1="568.70" y1="88.5" x2="568.70" y2="93.0" stroke="#222" stroke-width="1"/>
<line x1="589.45" y1="88.5" x2="589.45" y2="90.7" stroke="#222" stroke-width="1"/>
<line x1="381.95" y1="170.8" x2="381.95" y2="173.0" stroke="#222" stroke-width="1"/>
<line x1="402.70" y1="170.8" x2="402.70" y2="175.3" stroke="#222" stroke-width="1"/>
<line x1="423.45" y1="170.8" x2="423.45" y2="173.0" stroke="#222" stroke-width="1"/>
<line x1="444.20" y1="170.8" x2="444.20" y2="175.3" stroke="#222" stroke-width="1"/>
<line x1="464.95" y1="170.8" x2="464.95" y2="173.0" stroke="#222" stroke-width="1"/>
<line x1="485.70" y1="170.8" x2="485.70" y2="175.3" stroke="#222" stroke-width="1"/>
<line x1="506.45" y1="170.8" x2="506.45" y2="173.0" stroke="#222" stroke-width="1"/>
<line x1="527.20" y1="170.8" x2="527.20" y2="175.3" stroke="#222" stroke-width="1"/>
<line x1="547.95" y1="170.8" x2="547.95" y2="173.0" stroke="#222" stroke-width="1"/>
<line x1="568.70" y1="170.8" x2="568.70" y2="175.3" stroke="#222" stroke-width="1"/>
<line x1="589.45" y1="170.8" x2="589.45" y2="173.0" stroke="#222" stroke-width="1"/>
<line x1="381.95" y1="254.2" x2="381.95" y2="256.4" stroke="#222" stroke-width="1"/>
<line x1="402.70" y1="254.2" x2="402.70" y2="258.7" stroke="#222" stroke-width="1"/>
<line x1="423.45" y1="254.2" x2="423.45" y2="256.4" stroke="#222" stroke-width="1"/>
<line x1="444.20" y1="254.2" x2="444.20" y2="258.7" stroke="#222" stroke-width="1"/>
<line x1="464.95" y1="254.2" x2="464.95" y2="256.4" stroke="#222" stroke-width="1"/>
<line x1="485.70" y1="254.2" x2="485.70" y2="258.7" stroke="#222" stroke-width="1"/>
<line x1="506.45" y1="254.2" x2="506.45" y2="256.4" stroke="#222" stroke-width="1"/>
<line x1="527.20" y1="254.2" x2="527.20" y2="258.7" stroke="#222" stroke-width="1"/>
<line x1="547.95" y1="254.2" x2="547.95" y2="256.4" stroke="#222" stroke-width="1"/>
<line x1="568.70" y1="254.2" x2="568.70" y2="258.7" stroke="#222" stroke-width="1"/>
<line x1="589.45" y1="254.2" x2="589.45" y2="256.4" stroke="#222" stroke-width="1"/>
<line x1="361.20" y1="254.2" x2="361.20" y2="258.7" stroke="#222" stroke-width="1"/>
<line x1="610.20" y1="254.2" x2="610.20" y2="258.7" stroke="#222" stroke-width="1"/>
<text x="359.70" y="272.3" font-size="11" font-weight="bold" text-anchor="middle" font-family="Liberation Sans, sans-serif">-6</text>
<text x="401.20" y="272.3" font-size="11" font-weight="bold" text-anchor="middle" font-family="Liberation Sans, sans-serif">-4</text>
<text x="442.70" y="272.3" font-size="11" font-weight="bold" text-anchor="middle" font-family="Liberation Sans, sans-serif">-2</text>
<text x="485.70" y="272.3" font-size="11" font-weight="bold" text-anchor="middle" font-family="Liberation Sans, sans-serif">0</text>
<text x="527.20" y="272.3" font-size="11" font-weight="bold" text-anchor="middle" font-family="Liberation Sans, sans-serif">2</text>
<text x="568.70" y="272.3" font-size="11" font-weight="bold" text-anchor="middle" font-family="Liberation Sans, sans-serif">4</text>
<text x="610.20" y="272.3" font-size="11" font-weight="bold" text-anchor="middle" font-family="Liberation Sans, sans-serif">6</text>
<text x="485.6" y="285" font-size="13.7" font-weight="bold" text-anchor="middle" font-family="Liberation Sans, sans-serif">Energy(eV)</text>
<text transform="translate(329.8,133.4) rotate(-90)" font-size="14" font-weight="bold" text-anchor="middle" font-family="Liberation Sans, sans-serif">DOS states/eV</text>
<line x1="359.0" y1="85.05" x2="361.2" y2="85.05" stroke="#222" stroke-width="1"/>
<line x1="356.7" y1="73.30" x2="361.2" y2="73.30" stroke="#222" stroke-width="1"/>
<line x1="359.0" y1="61.55" x2="361.2" y2="61.55" stroke="#222" stroke-width="1"/>
<line x1="356.7" y1="49.80" x2="361.2" y2="49.80" stroke="#222" stroke-width="1"/>
<line x1="359.0" y1="38.05" x2="361.2" y2="38.05" stroke="#222" stroke-width="1"/>
<line x1="356.7" y1="26.30" x2="361.2" y2="26.30" stroke="#222" stroke-width="1"/>
<line x1="359.0" y1="14.55" x2="361.2" y2="14.55" stroke="#222" stroke-width="1"/>
<text x="352.6" y="30.30" font-size="11" font-weight="bold" text-anchor="end" font-family="Liberation Sans, sans-serif">20</text>
<text x="352.6" y="53.80" font-size="11" font-weight="bold" text-anchor="end" font-family="Liberation Sans, sans-serif">0</text>
<text x="352.6" y="77.30" font-size="11" font-weight="bold" text-anchor="end" font-family="Liberation Sans, sans-serif">-20</text>
<line x1="356.7" y1="158.60" x2="361.2" y2="158.60" stroke="#222" stroke-width="1"/>
<line x1="359.0" y1="145.55" x2="361.2" y2="145.55" stroke="#222" stroke-width="1"/>
<line x1="356.7" y1="132.50" x2="361.2" y2="132.50" stroke="#222" stroke-width="1"/>
<line x1="359.0" y1="119.45" x2="361.2" y2="119.45" stroke="#222" stroke-width="1"/>
<line x1="356.7" y1="106.40" x2="361.2" y2="106.40" stroke="#222" stroke-width="1"/>
<line x1="359.0" y1="93.35" x2="361.2" y2="93.35" stroke="#222" stroke-width="1"/>
<text x="352.6" y="110.40" font-size="11" font-weight="bold" text-anchor="end" font-family="Liberation Sans, sans-serif">0.4</text>
<text x="352.6" y="136.50" font-size="11" font-weight="bold" text-anchor="end" font-family="Liberation Sans, sans-serif">0.0</text>
<text x="352.6" y="162.60" font-size="11" font-weight="bold" text-anchor="end" font-family="Liberation Sans, sans-serif">-0.4</text>
<line x1="359.0" y1="254.14" x2="361.2" y2="254.14" stroke="#222" stroke-width="1"/>
<line x1="356.7" y1="241.16" x2="361.2" y2="241.16" stroke="#222" stroke-width="1"/>
<line x1="359.0" y1="228.18" x2="361.2" y2="228.18" stroke="#222" stroke-width="1"/>
<line x1="356.7" y1="215.20" x2="361.2" y2="215.20" stroke="#222" stroke-width="1"/>
<line x1="359.0" y1="202.22" x2="361.2" y2="202.22" stroke="#222" stroke-width="1"/>
<line x1="356.7" y1="189.24" x2="361.2" y2="189.24" stroke="#222" stroke-width="1"/>
<line x1="359.0" y1="176.26" x2="361.2" y2="176.26" stroke="#222" stroke-width="1"/>
<text x="352.6" y="193.24" font-size="11" font-weight="bold" text-anchor="end" font-family="Liberation Sans, sans-serif">0.4</text>
<text x="352.6" y="219.20" font-size="11" font-weight="bold" text-anchor="end" font-family="Liberation Sans, sans-serif">0.0</text>
<text x="352.6" y="245.16" font-size="11" font-weight="bold" text-anchor="end" font-family="Liberation Sans, sans-serif">-0.4</text>
<rect x="361.2" y="10.7" width="21.4" height="19.5" fill="#fff" stroke="#bbb" stroke-width="0.8"/>
<text x="371.5" y="27.3" font-size="14" font-weight="bold" text-anchor="middle" font-family="Liberation Sans, sans-serif">(b)</text>
<rect x="488.2" y="22.5" width="40.8" height="19" fill="#fff" stroke="#bbb" stroke-width="0.8"/>
<text x="509.2" y="36.6" font-size="12.5" font-weight="bold" text-anchor="middle" font-family="Liberation Sans, sans-serif">TDOS</text>
<rect x="490.6" y="101.3" width="29.9" height="20.4" fill="#fff" stroke="#bbb" stroke-width="0.8"/>
<text x="505.8" y="116.9" font-size="11.6" font-weight="bold" text-anchor="middle" font-family="Liberation Sans, sans-serif">S-3<tspan font-style="italic">p</tspan></text>
<rect x="490.4" y="189" width="38.3" height="19.2" fill="#fff" stroke="#bbb" stroke-width="0.8"/>
<text x="509.8" y="203.5" font-size="11.6" font-weight="bold" text-anchor="middle" font-family="Liberation Sans, sans-serif">Mn-3<tspan font-style="italic">d</tspan></text>
<rect x="529.5" y="158" width="79" height="49.7" fill="#fff" stroke="#bbb" stroke-width="0.8"/>
<line x1="530.2" y1="170.1" x2="554.3" y2="170.1" stroke="#ff00ff" stroke-width="2.5"/>
<line x1="530.2" y1="182.8" x2="554.3" y2="182.8" stroke="#800000" stroke-width="2.5"/>
<line x1="530.2" y1="200.2" x2="554.3" y2="200.2" stroke="#008000" stroke-width="2.5"/>
<text x="555.8" y="173.4" font-size="9.3" font-family="Liberation Sans, sans-serif">e1<tspan font-size="12" font-weight="bold">(</tspan><tspan font-style="italic">dxy, dx</tspan><tspan font-size="8" font-weight="bold" dy="-5.5">2</tspan><tspan font-size="12" font-weight="bold" dy="5.5">)</tspan></text>
<text x="555.8" y="186.2" font-size="9.3" font-family="Liberation Sans, sans-serif">e2(<tspan font-style="italic">dyz, dxz</tspan>)</text>
<text x="555.8" y="203.6" font-size="9.3" font-family="Liberation Sans, sans-serif">a<tspan font-size="12" font-weight="bold">(</tspan><tspan font-style="italic">dz</tspan><tspan font-size="8" font-weight="bold" dy="-5.5">2</tspan><tspan font-size="12" font-weight="bold" dy="5.5">)</tspan></text>
<line x1="610.2" y1="10.7" x2="610.2" y2="254.2" stroke="#111" stroke-width="1.4"/>
</svg>
</body></html>
